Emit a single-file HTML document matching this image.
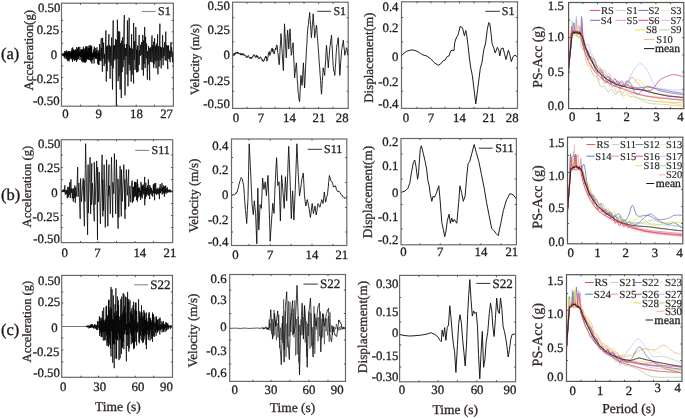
<!DOCTYPE html>
<html><head><meta charset="utf-8"><style>
html,body{margin:0;padding:0;background:#fff;}
svg{display:block;will-change:transform;}
text{font-family:"Liberation Serif",serif;text-rendering:geometricPrecision;stroke-width:0.3px;paint-order:stroke;}
</style></head><body>
<svg width="685" height="418" viewBox="0 0 685 418">
<rect width="685" height="418" fill="#fff"/>
<rect x="61.5" y="3.2" width="111.9" height="103.0" fill="none" stroke="#6a6a6a" stroke-width="1.2"/>
<path d="M62.20,54.37 L62.42,55.20 L62.64,54.01 L62.86,55.72 L63.08,52.98 L63.30,55.79 L63.52,54.18 L63.74,55.38 L63.96,53.63 L64.18,57.11 L64.40,52.86 L64.62,57.29 L64.84,51.24 L65.06,58.64 L65.28,51.05 L65.50,55.43 L65.72,53.22 L65.94,56.15 L66.16,52.94 L66.38,59.31 L66.60,50.44 L66.82,57.34 L67.04,52.29 L67.26,56.25 L67.48,53.11 L67.70,61.16 L67.92,51.62 L68.14,57.27 L68.36,51.10 L68.58,60.20 L68.80,50.90 L69.02,61.28 L69.24,53.48 L69.46,56.25 L69.68,51.22 L69.90,59.39 L70.12,53.24 L70.34,57.89 L70.56,53.04 L70.78,56.40 L71.00,50.94 L71.22,58.80 L71.44,51.39 L71.66,58.73 L71.88,48.49 L72.10,59.55 L72.32,52.52 L72.54,61.79 L72.76,47.38 L72.98,57.75 L73.20,49.38 L73.42,58.28 L73.64,50.55 L73.86,59.44 L74.08,54.35 L74.30,60.63 L74.52,50.15 L74.74,60.60 L74.96,51.37 L75.18,60.02 L75.40,49.74 L75.62,57.19 L75.84,49.48 L76.06,58.27 L76.28,53.07 L76.50,61.90 L76.72,47.01 L76.94,60.47 L77.16,52.10 L77.38,57.98 L77.60,48.78 L77.82,59.71 L78.04,48.20 L78.26,58.90 L78.48,46.93 L78.70,57.54 L78.92,52.98 L79.14,55.66 L79.36,51.87 L79.58,55.60 L79.80,46.86 L80.02,60.10 L80.24,53.68 L80.46,57.10 L80.68,49.93 L80.90,55.80 L81.12,51.17 L81.34,56.83 L81.56,49.08 L81.78,61.01 L82.00,50.10 L82.22,61.66 L82.44,49.68 L82.66,55.59 L82.88,49.32 L83.10,62.51 L83.32,46.68 L83.54,61.32 L83.76,52.11 L83.98,59.69 L84.20,48.97 L84.42,62.35 L84.64,53.91 L84.86,59.31 L85.08,48.20 L85.30,62.64 L85.52,46.45 L85.74,61.48 L85.96,51.31 L86.18,61.76 L86.40,46.20 L86.62,59.02 L86.84,48.20 L87.06,54.86 L87.28,46.62 L87.50,58.84 L87.72,51.77 L87.94,59.66 L88.16,53.97 L88.38,59.24 L88.60,47.75 L88.82,59.73 L89.04,45.45 L89.26,59.69 L89.48,47.63 L89.70,56.49 L89.92,52.02 L90.14,59.24 L90.36,45.07 L90.58,61.15 L90.80,47.28 L91.02,61.66 L91.24,47.07 L91.46,56.72 L91.68,45.79 L91.90,63.59 L92.12,52.86 L92.34,58.93 L92.56,53.98 L92.78,60.06 L93.00,52.54 L93.22,58.33 L93.44,51.52 L93.66,57.71 L93.88,49.26 L94.10,63.43 L94.32,46.66 L94.54,56.70 L94.76,52.53 L94.98,56.20 L95.20,47.96 L95.42,58.31 L95.64,51.59 L95.86,58.41 L96.08,51.72 L96.30,59.18 L96.52,50.46 L96.74,58.12 L96.96,47.30 L97.18,56.22 L97.40,53.25 L97.62,63.60 L97.84,53.51 L98.06,55.75 L98.28,50.22 L98.50,64.85 L98.72,52.07 L98.94,64.96 L99.16,53.07 L99.38,59.64 L99.60,44.07 L100.10,61.11 L101.30,38.20 L101.10,60.72 L101.60,47.88 L102.40,71.70 L102.60,37.77 L103.10,58.46 L103.60,42.76 L104.10,66.04 L104.60,53.89 L105.10,63.59 L105.90,30.30 L106.30,81.60 L106.60,46.24 L107.10,71.19 L107.60,45.61 L108.10,59.46 L108.90,34.20 L109.10,62.14 L109.60,45.10 L110.10,78.78 L110.60,46.46 L111.10,65.48 L111.60,37.49 L112.50,89.50 L113.20,20.40 L113.10,68.33 L113.60,45.46 L114.10,60.46 L114.60,45.29 L115.10,59.39 L115.60,38.99 L116.40,106.00 L116.60,39.91 L117.10,59.05 L117.40,19.70 L118.10,81.16 L118.60,31.25 L119.10,76.29 L119.70,31.60 L120.10,89.50 L120.60,43.15 L121.30,98.00 L121.60,40.72 L122.10,72.07 L122.60,37.25 L123.10,67.23 L124.30,15.10 L124.10,59.87 L124.60,44.10 L125.00,95.40 L125.60,48.00 L126.10,56.06 L126.60,44.15 L127.10,74.38 L127.40,20.40 L127.90,86.20 L129.20,17.80 L129.10,64.67 L129.60,45.36 L130.10,70.56 L130.60,47.90 L131.20,81.60 L131.60,34.20 L132.10,74.71 L132.60,48.71 L133.60,83.60 L133.60,23.00 L134.10,59.99 L134.60,41.34 L135.10,69.85 L135.80,27.00 L136.80,72.40 L136.60,49.70 L137.10,72.11 L137.60,45.60 L138.10,71.53 L139.20,34.90 L139.10,64.82 L139.60,50.28 L140.10,55.92 L140.60,44.84 L141.10,54.97 L141.60,42.08 L142.10,69.95 L142.80,34.90 L143.40,75.70 L143.60,40.52 L144.10,63.84 L144.70,27.00 L145.10,68.01 L145.60,36.86 L146.10,58.34 L146.60,43.53 L147.40,79.60 L147.60,51.29 L148.10,64.57 L148.60,46.00 L149.70,80.30 L149.60,48.29 L150.10,61.96 L150.60,47.27 L151.10,61.43 L152.00,35.50 L152.10,62.47 L152.60,45.15 L153.70,67.80 L153.60,41.85 L154.10,64.31 L154.60,38.20 L155.10,61.48 L155.60,45.82 L156.10,68.37 L156.60,43.66 L157.10,60.38 L157.60,34.38 L157.90,74.40 L158.60,46.24 L159.10,66.59 L159.90,23.70 L160.10,60.56 L160.60,46.81 L161.20,68.40 L161.60,47.51 L162.10,58.21 L162.60,35.18 L163.10,65.32 L163.60,47.70 L164.10,55.81 L164.60,42.22 L165.10,60.02 L165.80,31.60 L166.10,60.95 L166.60,45.04 L167.80,69.10 L167.60,45.66 L168.10,58.36 L168.60,45.38 L169.10,59.39 L169.60,50.61 L170.10,62.15 L171.00,42.00 L171.10,56.88 L171.60,47.29 L172.60,62.50 L172.60,51.70" stroke="#000" stroke-width="0.75" fill="none" stroke-linejoin="round" opacity="1"/>
<path d="M80.5,106.2v-1.6M80.5,3.2v1.6M98.8,106.2v-1.6M98.8,3.2v1.6M117.0,106.2v-1.6M117.0,3.2v1.6M136.2,106.2v-1.6M136.2,3.2v1.6M154.5,106.2v-1.6M154.5,3.2v1.6M61.5,20.5h1.6M173.4,20.5h-1.6M61.5,31.8h1.6M173.4,31.8h-1.6M61.5,43.2h1.6M173.4,43.2h-1.6M61.5,66.0h1.6M173.4,66.0h-1.6M61.5,77.4h1.6M173.4,77.4h-1.6M61.5,88.8h1.6M173.4,88.8h-1.6" stroke="#444" stroke-width="0.9" fill="none"/>
<text x="60.3" y="12.0" font-size="12.8" text-anchor="end" fill="#1e1e1e" stroke="#1e1e1e" >0.50</text>
<text x="59.1" y="33.6" font-size="12.8" text-anchor="end" fill="#1e1e1e" stroke="#1e1e1e" >0.25</text>
<text x="57.2" y="58.7" font-size="12.8" text-anchor="end" fill="#1e1e1e" stroke="#1e1e1e" >0</text>
<text x="59.1" y="82.9" font-size="12.8" text-anchor="end" fill="#1e1e1e" stroke="#1e1e1e" >-0.25</text>
<text x="59.6" y="105.3" font-size="12.8" text-anchor="end" fill="#1e1e1e" stroke="#1e1e1e" >-0.50</text>
<text x="65.5" y="118.0" font-size="12.8" text-anchor="middle" fill="#1e1e1e" stroke="#1e1e1e" >0</text>
<text x="98.6" y="118.0" font-size="12.8" text-anchor="middle" fill="#1e1e1e" stroke="#1e1e1e" >9</text>
<text x="136.5" y="118.0" font-size="12.8" text-anchor="middle" fill="#1e1e1e" stroke="#1e1e1e" >18</text>
<text x="166.6" y="118.0" font-size="12.8" text-anchor="middle" fill="#1e1e1e" stroke="#1e1e1e" >27</text>
<text transform="translate(32.8,50.2) rotate(-90)" font-size="12.85" text-anchor="middle" fill="#33282a" stroke="#33282a">Acceleration(g)</text>
<path d="M141.7,11.5H155.8" stroke="#8a8a8a" stroke-width="1.1"/>
<text x="158.0" y="15.2" font-size="12" text-anchor="start" fill="#1e1e1e" stroke="#1e1e1e" >S1</text>
<text x="1.0" y="58.9" font-size="16.5" text-anchor="start" fill="#161616" stroke="#161616" >(a)</text>
<rect x="232.6" y="2.2" width="115.6" height="106.2" fill="none" stroke="#6a6a6a" stroke-width="1.2"/>
<path d="M233.00,55.10 L233.42,55.55 L233.84,53.71 L234.27,55.28 L234.69,53.20 L235.11,54.43 L235.53,52.54 L235.96,53.64 L236.38,52.01 L236.80,52.50 L237.28,51.80 L237.76,53.78 L238.24,52.48 L238.72,53.78 L239.20,53.30 L239.65,54.10 L240.10,52.93 L240.55,55.10 L241.00,54.50 L241.45,54.82 L241.90,53.11 L242.35,55.13 L242.80,53.90 L243.28,55.13 L243.76,53.77 L244.24,55.52 L244.72,54.89 L245.20,55.70 L245.65,55.44 L246.10,57.23 L246.55,56.71 L247.00,57.80 L247.55,56.00 L248.10,55.40 L248.57,55.64 L249.03,57.55 L249.50,57.50 L250.03,58.63 L250.57,57.30 L251.10,58.70 L251.57,57.18 L252.03,58.10 L252.50,56.50 L253.03,56.80 L253.57,54.69 L254.10,55.10 L254.57,54.92 L255.03,56.86 L255.50,56.80 L255.90,57.62 L256.30,55.15 L256.70,56.97 L257.10,55.70 L257.55,57.36 L258.00,56.55 L258.45,58.54 L258.90,58.70 L259.37,58.83 L259.83,57.21 L260.30,57.20 L260.83,56.95 L261.37,59.30 L261.90,59.30 L262.35,60.75 L262.80,59.50 L263.25,61.72 L263.70,61.10 L264.15,60.90 L264.60,58.26 L265.05,58.08 L265.50,56.30 L265.95,58.24 L266.40,56.60 L266.85,61.17 L267.30,59.90 L267.90,57.70 L268.50,52.70 L268.95,53.98 L269.40,51.59 L269.85,55.51 L270.30,53.90 L270.75,53.64 L271.20,49.90 L271.65,50.72 L272.10,47.90 L272.55,51.55 L273.00,49.02 L273.45,53.44 L273.90,53.90 L274.30,53.91 L274.70,50.49 L275.10,50.30 L275.55,48.02 L276.00,49.58 L276.45,45.21 L276.90,45.00 L277.30,46.35 L277.70,52.40 L278.10,53.90 L278.65,60.43 L279.20,64.70 L279.65,58.77 L280.10,48.10 L280.55,43.10 L281.00,33.60 L281.60,44.18 L282.20,52.70 L282.80,63.14 L283.40,70.70 L283.95,48.41 L284.50,23.80 L284.95,33.54 L285.40,38.64 L285.85,51.24 L286.30,57.80 L286.73,49.85 L287.17,37.29 L287.60,30.10 L288.20,38.39 L288.80,49.00 L289.40,37.55 L290.00,28.90 L290.43,35.69 L290.87,48.23 L291.30,55.30 L291.75,53.16 L292.20,46.81 L292.65,47.01 L293.10,42.70 L293.60,55.65 L294.10,64.27 L294.60,77.90 L295.05,72.81 L295.50,71.62 L295.95,65.60 L296.40,62.80 L296.82,69.33 L297.25,79.50 L297.68,84.17 L298.10,92.90 L298.60,94.16 L299.10,100.14 L299.60,101.70 L300.03,93.74 L300.47,83.00 L300.90,75.40 L301.30,77.91 L301.70,82.96 L302.10,85.40 L302.53,78.97 L302.97,69.72 L303.40,62.80 L303.80,70.58 L304.20,80.67 L304.60,87.90 L305.05,79.54 L305.50,68.39 L305.95,60.24 L306.40,50.20 L306.83,44.51 L307.27,35.64 L307.70,30.10 L308.10,25.96 L308.50,24.22 L308.90,18.42 L309.30,16.93 L309.70,12.50 L310.12,19.58 L310.55,24.55 L310.97,31.91 L311.40,37.70 L311.85,32.90 L312.30,25.10 L312.75,20.76 L313.20,13.80 L313.70,22.43 L314.20,28.66 L314.70,37.70 L315.15,33.64 L315.60,32.09 L316.05,27.64 L316.50,25.10 L316.93,29.75 L317.35,36.93 L317.77,41.41 L318.20,47.70 L318.70,53.52 L319.20,62.19 L319.70,67.80 L320.15,75.32 L320.60,80.32 L321.05,88.74 L321.50,94.20 L321.93,88.23 L322.35,80.51 L322.77,75.07 L323.20,67.80 L323.70,71.13 L324.20,72.34 L324.70,75.40 L325.15,67.24 L325.60,61.05 L326.05,51.86 L326.50,45.20 L326.95,50.28 L327.40,57.24 L327.85,61.03 L328.30,67.80 L328.80,59.91 L329.30,55.35 L329.80,47.70 L330.23,45.55 L330.65,40.55 L331.07,38.91 L331.50,35.20 L331.95,43.86 L332.40,51.01 L332.85,60.79 L333.30,67.80 L333.80,71.32 L334.30,71.69 L334.80,75.40 L335.25,67.98 L335.70,62.49 L336.15,53.80 L336.60,47.70 L337.03,44.19 L337.45,43.41 L337.88,39.00 L338.30,37.70 L338.80,49.73 L339.30,63.71 L339.80,75.40 L340.25,70.11 L340.70,61.67 L341.15,57.51 L341.60,50.20 L342.03,48.69 L342.45,44.15 L342.88,43.84 L343.30,40.20 L343.80,45.97 L344.30,49.29 L344.80,55.30 L345.25,52.27 L345.70,52.61 L346.15,48.82 L346.60,47.70 L347.07,49.18 L347.53,53.87 L348.00,55.30" stroke="#111" stroke-width="0.9" fill="none" stroke-linejoin="round" opacity="1"/>
<path d="M247.0,108.4v-1.6M247.0,2.2v1.6M261.0,108.4v-1.6M261.0,2.2v1.6M275.0,108.4v-1.6M275.0,2.2v1.6M289.5,108.4v-1.6M289.5,2.2v1.6M304.0,108.4v-1.6M304.0,2.2v1.6M318.5,108.4v-1.6M318.5,2.2v1.6M333.0,108.4v-1.6M333.0,2.2v1.6M232.6,17.7h1.6M348.2,17.7h-1.6M232.6,41.9h1.6M348.2,41.9h-1.6M232.6,66.8h1.6M348.2,66.8h-1.6M232.6,91.2h1.6M348.2,91.2h-1.6" stroke="#444" stroke-width="0.9" fill="none"/>
<text x="229.9" y="10.0" font-size="12.8" text-anchor="end" fill="#1e1e1e" stroke="#1e1e1e" >0.50</text>
<text x="229.9" y="34.0" font-size="12.8" text-anchor="end" fill="#1e1e1e" stroke="#1e1e1e" >0.25</text>
<text x="229.9" y="58.5" font-size="12.8" text-anchor="end" fill="#1e1e1e" stroke="#1e1e1e" >0</text>
<text x="229.9" y="84.5" font-size="12.8" text-anchor="end" fill="#1e1e1e" stroke="#1e1e1e" >-0.25</text>
<text x="229.9" y="108.0" font-size="12.8" text-anchor="end" fill="#1e1e1e" stroke="#1e1e1e" >-0.50</text>
<text x="236.0" y="122.0" font-size="12.8" text-anchor="middle" fill="#1e1e1e" stroke="#1e1e1e" >0</text>
<text x="261.0" y="122.0" font-size="12.8" text-anchor="middle" fill="#1e1e1e" stroke="#1e1e1e" >7</text>
<text x="289.5" y="122.0" font-size="12.8" text-anchor="middle" fill="#1e1e1e" stroke="#1e1e1e" >14</text>
<text x="319.0" y="122.0" font-size="12.8" text-anchor="middle" fill="#1e1e1e" stroke="#1e1e1e" >21</text>
<text x="342.2" y="122.0" font-size="12.8" text-anchor="middle" fill="#1e1e1e" stroke="#1e1e1e" >28</text>
<text transform="translate(198.8,59.5) rotate(-90)" font-size="12.5" text-anchor="middle" fill="#33282a" stroke="#33282a">Velocity (m/s)</text>
<path d="M317.2,11.3H331.0" stroke="#333" stroke-width="1.0"/>
<text x="333.4" y="14.8" font-size="12" text-anchor="start" fill="#1e1e1e" stroke="#1e1e1e" >S1</text>
<rect x="401.5" y="1.8" width="116.0" height="106.6" fill="none" stroke="#6a6a6a" stroke-width="1.2"/>
<path d="M401.80,55.30 L404.00,53.20 L406.60,51.30 L410.00,50.20 L413.20,50.00 L416.00,50.80 L418.40,52.10 L420.50,53.50 L422.40,54.70 L426.30,55.80 L430.30,58.40 L434.20,62.60 L438.20,65.30 L440.80,63.70 L443.40,60.50 L445.00,60.20 L447.20,56.60 L449.00,55.90 L450.00,53.00 L451.00,50.60 L452.90,50.20 L453.90,50.90 L454.80,42.30 L456.20,38.00 L457.60,35.80 L458.60,32.90 L460.10,26.50 L461.90,27.20 L462.90,29.30 L464.40,35.80 L465.80,30.50 L466.50,33.70 L468.00,45.10 L469.40,58.00 L470.80,68.10 L472.30,75.30 L473.50,85.00 L475.80,103.90 L477.60,89.50 L480.30,68.40 L482.00,62.30 L483.70,50.20 L485.60,43.00 L487.30,29.30 L488.80,22.50 L489.80,23.60 L490.90,32.20 L492.10,43.70 L493.80,48.00 L495.20,53.00 L497.40,47.30 L498.80,50.20 L499.80,55.90 L501.20,48.70 L503.10,48.00 L504.50,53.70 L506.00,59.50 L508.40,50.20 L509.60,53.70 L511.30,61.60 L513.10,56.60 L515.00,55.20 L517.00,56.60" stroke="#111" stroke-width="0.95" fill="none" stroke-linejoin="round" opacity="1"/>
<path d="M417.0,108.4v-1.6M417.0,1.8v1.6M431.0,108.4v-1.6M431.0,1.8v1.6M445.0,108.4v-1.6M445.0,1.8v1.6M459.5,108.4v-1.6M459.5,1.8v1.6M474.0,108.4v-1.6M474.0,1.8v1.6M489.0,108.4v-1.6M489.0,1.8v1.6M503.0,108.4v-1.6M503.0,1.8v1.6M401.5,17.5h1.6M517.5,17.5h-1.6M401.5,41.9h1.6M517.5,41.9h-1.6M401.5,68.0h1.6M517.5,68.0h-1.6M401.5,91.2h1.6M517.5,91.2h-1.6" stroke="#444" stroke-width="0.9" fill="none"/>
<text x="398.5" y="10.7" font-size="12.8" text-anchor="end" fill="#1e1e1e" stroke="#1e1e1e" >0.4</text>
<text x="398.5" y="32.0" font-size="12.8" text-anchor="end" fill="#1e1e1e" stroke="#1e1e1e" >0.2</text>
<text x="398.5" y="60.7" font-size="12.8" text-anchor="end" fill="#1e1e1e" stroke="#1e1e1e" >0</text>
<text x="398.5" y="85.5" font-size="12.8" text-anchor="end" fill="#1e1e1e" stroke="#1e1e1e" >-0.2</text>
<text x="398.5" y="108.0" font-size="12.8" text-anchor="end" fill="#1e1e1e" stroke="#1e1e1e" >-0.4</text>
<text x="406.0" y="122.0" font-size="12.8" text-anchor="middle" fill="#1e1e1e" stroke="#1e1e1e" >0</text>
<text x="431.0" y="122.0" font-size="12.8" text-anchor="middle" fill="#1e1e1e" stroke="#1e1e1e" >7</text>
<text x="459.5" y="122.0" font-size="12.8" text-anchor="middle" fill="#1e1e1e" stroke="#1e1e1e" >14</text>
<text x="489.0" y="122.0" font-size="12.8" text-anchor="middle" fill="#1e1e1e" stroke="#1e1e1e" >21</text>
<text x="512.2" y="122.0" font-size="12.8" text-anchor="middle" fill="#1e1e1e" stroke="#1e1e1e" >28</text>
<text transform="translate(373.3,57.7) rotate(-90)" font-size="13" text-anchor="middle" fill="#33282a" stroke="#33282a">Displacement(m)</text>
<path d="M485.3,11.3H499.9" stroke="#333" stroke-width="1.0"/>
<text x="501.8" y="14.8" font-size="12" text-anchor="start" fill="#1e1e1e" stroke="#1e1e1e" >S1</text>
<clipPath id="c5682"><rect x="568.6" y="2.5" width="115.19999999999993" height="106.1"/></clipPath>
<g clip-path="url(#c5682)">
<path d="M568.20,71.67 L568.78,66.08 L569.37,60.43 L569.95,53.95 L570.54,50.01 L571.12,43.28 L571.70,38.52 L572.29,30.23 L572.87,33.24 L573.46,30.71 L574.04,33.36 L574.62,31.34 L575.21,32.63 L575.79,26.96 L576.38,15.91 L576.96,29.17 L577.54,33.98 L578.13,28.58 L578.71,25.05 L579.30,31.75 L579.88,31.33 L580.46,32.22 L581.05,35.81 L581.63,35.41 L582.22,37.03 L582.80,38.78 L583.68,40.07 L584.55,42.93 L585.43,48.01 L586.30,52.02 L587.18,52.76 L588.06,52.67 L588.93,54.95 L589.81,58.90 L590.68,60.93 L591.56,59.98 L592.44,59.76 L593.31,62.28 L594.19,65.63 L595.06,66.46 L595.94,65.03 L596.82,64.96 L597.69,67.75 L598.57,70.55 L599.44,70.53 L600.32,69.16 L601.20,69.99 L602.07,73.28 L602.95,75.54 L603.82,74.90 L604.70,73.91 L605.58,75.64 L606.45,78.97 L607.33,80.27 L608.20,78.91 L609.08,78.19 L609.96,80.32 L610.83,83.04 L611.71,83.05 L612.58,81.07 L613.46,80.72 L614.34,83.04 L615.21,84.92 L616.09,83.88 L616.96,81.81 L617.84,82.19 L618.72,84.72 L619.59,85.83 L620.47,84.11 L621.34,82.50 L622.22,83.70 L623.10,86.10 L623.97,86.06 L624.85,83.63 L625.72,82.28 L626.60,82.97 L627.48,83.14 L628.35,81.03 L629.23,78.04 L630.10,76.07 L630.98,74.91 L631.86,73.39 L632.73,71.60 L633.61,70.15 L634.48,68.86 L635.36,67.58 L636.24,66.41 L637.11,65.40 L637.99,64.58 L638.86,64.00 L639.74,63.72 L640.62,63.74 L641.49,64.01 L642.95,64.98 L644.41,66.44 L645.87,68.28 L647.33,70.38 L648.79,73.17 L650.25,76.54 L651.71,80.02 L653.17,83.16 L654.63,85.48 L656.09,86.84 L657.55,87.77 L659.01,88.37 L660.47,88.72 L661.93,88.91 L663.39,89.01 L664.85,89.11 L666.31,89.29 L667.77,89.49 L669.23,89.65 L670.69,89.77 L672.15,89.86 L673.61,89.93 L675.07,89.99 L676.53,90.03 L677.99,90.07 L679.45,90.11 L680.91,90.15 L682.37,90.21 L683.83,90.28" stroke="#c3c8ef" stroke-width="0.8" fill="none" stroke-linejoin="round" opacity="1"/>
<path d="M568.20,72.33 L568.78,67.10 L569.37,60.54 L569.95,55.69 L570.54,49.57 L571.12,42.69 L571.70,36.40 L572.29,30.76 L572.87,33.15 L573.46,33.32 L574.04,32.74 L574.62,31.80 L575.21,30.90 L575.79,31.12 L576.38,26.97 L576.96,18.64 L577.54,26.15 L578.13,33.32 L578.71,33.38 L579.30,33.89 L579.88,32.89 L580.46,23.30 L581.05,18.76 L581.63,32.83 L582.22,36.04 L582.80,39.65 L583.68,41.28 L584.55,43.48 L585.43,46.05 L586.30,48.60 L587.18,50.66 L588.06,52.06 L588.93,52.64 L589.81,52.61 L590.68,52.48 L591.56,52.81 L592.44,54.73 L593.31,57.34 L594.19,60.16 L595.06,62.76 L595.94,64.68 L596.82,65.72 L597.69,66.05 L598.57,66.11 L599.44,66.46 L600.32,67.48 L601.20,69.23 L602.07,71.51 L602.95,73.80 L603.82,75.54 L604.70,76.41 L605.58,76.42 L606.45,75.94 L607.33,75.53 L608.20,75.66 L609.08,76.55 L609.96,78.08 L610.83,79.81 L611.71,81.20 L612.58,81.82 L613.46,81.56 L614.34,80.68 L615.21,79.71 L616.09,79.23 L616.96,79.50 L617.84,80.52 L618.72,82.08 L619.59,83.51 L620.47,84.31 L621.34,84.26 L622.22,83.50 L623.10,82.47 L623.97,81.77 L624.85,81.92 L625.72,82.81 L626.60,84.06 L627.48,85.20 L628.35,85.91 L629.23,86.12 L630.10,86.03 L630.98,85.93 L631.86,86.04 L632.73,86.34 L633.61,86.64 L634.48,86.80 L635.36,86.91 L636.24,87.00 L637.11,87.09 L637.99,87.16 L638.86,87.20 L639.74,87.18 L640.62,87.10 L641.49,86.97 L642.95,86.68 L644.41,86.36 L645.87,86.05 L647.33,85.82 L648.79,85.73 L650.25,85.84 L651.71,86.14 L653.17,86.58 L654.63,87.14 L656.09,87.75 L657.55,88.39 L659.01,89.01 L660.47,89.57 L661.93,90.02 L663.39,90.43 L664.85,90.82 L666.31,91.21 L667.77,91.58 L669.23,91.95 L670.69,92.31 L672.15,92.66 L673.61,93.01 L675.07,93.36 L676.53,93.70 L677.99,94.05 L679.45,94.40 L680.91,94.75 L682.37,95.10 L683.83,95.46" stroke="#efefb4" stroke-width="0.8" fill="none" stroke-linejoin="round" opacity="1"/>
<path d="M568.20,71.74 L568.78,65.74 L569.37,61.28 L569.95,53.83 L570.54,49.20 L571.12,42.91 L571.70,36.20 L572.29,32.55 L572.87,32.84 L573.46,32.07 L574.04,30.25 L574.62,32.30 L575.21,30.89 L575.79,33.27 L576.38,31.36 L576.96,31.09 L577.54,32.93 L578.13,33.62 L578.71,34.11 L579.30,34.10 L579.88,31.89 L580.46,26.94 L581.05,29.40 L581.63,23.94 L582.22,24.19 L582.80,37.64 L583.68,39.05 L584.55,41.86 L585.43,44.36 L586.30,45.11 L587.18,44.42 L588.06,44.27 L588.93,46.06 L589.81,49.52 L590.68,52.89 L591.56,54.56 L592.44,55.63 L593.31,56.63 L594.19,59.00 L595.06,62.74 L595.94,66.16 L596.82,67.63 L597.69,67.22 L598.57,66.60 L599.44,67.44 L600.32,69.75 L601.20,71.91 L602.07,72.38 L602.95,71.17 L603.82,69.82 L604.70,70.08 L605.58,72.11 L606.45,74.33 L607.33,75.06 L608.20,74.17 L609.08,73.21 L609.96,73.89 L610.83,76.32 L611.71,78.92 L612.58,79.93 L613.46,79.13 L614.34,78.04 L615.21,78.45 L616.09,80.64 L616.96,82.98 L617.84,83.74 L618.72,82.72 L619.59,81.36 L620.47,81.47 L621.34,83.41 L622.22,85.74 L623.10,86.69 L623.97,85.90 L624.85,84.98 L625.72,85.54 L626.60,87.47 L627.48,89.37 L628.35,90.16 L629.23,89.98 L630.10,89.83 L630.98,90.32 L631.86,91.21 L632.73,91.87 L633.61,92.11 L634.48,92.38 L635.36,92.70 L636.24,93.00 L637.11,93.29 L637.99,93.56 L638.86,93.82 L639.74,94.06 L640.62,94.29 L641.49,94.51 L642.95,94.85 L644.41,95.16 L645.87,95.45 L647.33,95.71 L648.79,95.96 L650.25,96.20 L651.71,96.41 L653.17,96.60 L654.63,96.78 L656.09,96.94 L657.55,97.09 L659.01,97.22 L660.47,97.35 L661.93,97.48 L663.39,97.60 L664.85,97.72 L666.31,97.84 L667.77,97.97 L669.23,98.10 L670.69,98.25 L672.15,98.40 L673.61,98.55 L675.07,98.70 L676.53,98.85 L677.99,99.00 L679.45,99.15 L680.91,99.30 L682.37,99.45 L683.83,99.60" stroke="#e6b6e6" stroke-width="0.8" fill="none" stroke-linejoin="round" opacity="1"/>
<path d="M568.20,76.10 L568.78,69.62 L569.37,64.59 L569.95,55.87 L570.54,49.91 L571.12,46.10 L571.70,36.62 L572.29,20.84 L572.87,30.35 L573.46,35.33 L574.04,35.56 L574.62,35.27 L575.21,34.56 L575.79,33.66 L576.38,36.51 L576.96,34.20 L577.54,36.69 L578.13,36.60 L578.71,37.99 L579.30,37.97 L579.88,26.57 L580.46,37.41 L581.05,47.32 L581.63,47.89 L582.22,48.36 L582.80,50.04 L583.68,49.72 L584.55,51.78 L585.43,57.33 L586.30,61.30 L587.18,63.96 L588.06,65.97 L588.93,66.54 L589.81,67.24 L590.68,68.89 L591.56,71.00 L592.44,73.62 L593.31,75.32 L594.19,76.00 L595.06,76.01 L595.94,76.03 L596.82,76.71 L597.69,78.45 L598.57,81.14 L599.44,83.85 L600.32,85.90 L601.20,86.88 L602.07,86.89 L602.95,86.46 L603.82,86.11 L604.70,86.50 L605.58,87.79 L606.45,89.57 L607.33,91.14 L608.20,91.90 L609.08,91.65 L609.96,90.69 L610.83,89.69 L611.71,89.32 L612.58,90.01 L613.46,91.51 L614.34,93.21 L615.21,94.39 L616.09,94.56 L616.96,93.80 L617.84,92.60 L618.72,91.63 L619.59,91.51 L620.47,92.39 L621.34,93.93 L622.22,95.42 L623.10,96.20 L623.97,95.96 L624.85,95.01 L625.72,94.16 L626.60,93.93 L627.48,94.43 L628.35,95.37 L629.23,96.26 L630.10,96.77 L630.98,96.83 L631.86,96.68 L632.73,96.62 L633.61,96.84 L634.48,97.11 L635.36,97.33 L636.24,97.55 L637.11,97.77 L637.99,97.99 L638.86,98.20 L639.74,98.41 L640.62,98.62 L641.49,98.83 L642.95,99.16 L644.41,99.48 L645.87,99.78 L647.33,100.07 L648.79,100.34 L650.25,100.58 L651.71,100.81 L653.17,101.02 L654.63,101.21 L656.09,101.37 L657.55,101.53 L659.01,101.66 L660.47,101.79 L661.93,101.90 L663.39,102.00 L664.85,102.09 L666.31,102.18 L667.77,102.25 L669.23,102.33 L670.69,102.39 L672.15,102.46 L673.61,102.52 L675.07,102.59 L676.53,102.65 L677.99,102.72 L679.45,102.79 L680.91,102.87 L682.37,102.96 L683.83,103.05" stroke="#a6d68e" stroke-width="0.8" fill="none" stroke-linejoin="round" opacity="1"/>
<path d="M568.20,72.14 L568.78,66.83 L569.37,60.17 L569.95,54.79 L570.54,49.19 L571.12,43.84 L571.70,38.32 L572.29,30.89 L572.87,30.33 L573.46,32.32 L574.04,30.84 L574.62,32.62 L575.21,31.17 L575.79,33.05 L576.38,32.00 L576.96,32.64 L577.54,31.18 L578.13,31.70 L578.71,34.09 L579.30,34.26 L579.88,32.40 L580.46,28.16 L581.05,30.30 L581.63,27.45 L582.22,23.03 L582.80,39.48 L583.68,41.51 L584.55,44.68 L585.43,48.67 L586.30,52.32 L587.18,54.56 L588.06,55.52 L588.93,56.14 L589.81,57.68 L590.68,60.77 L591.56,64.77 L592.44,68.08 L593.31,69.91 L594.19,70.30 L595.06,70.47 L595.94,71.68 L596.82,74.26 L597.69,77.33 L598.57,79.52 L599.44,80.00 L600.32,79.18 L601.20,78.35 L602.07,78.72 L602.95,80.39 L603.82,82.52 L604.70,83.70 L605.58,83.30 L606.45,82.02 L607.33,81.25 L608.20,81.98 L609.08,84.04 L609.96,86.23 L610.83,87.30 L611.71,86.95 L612.58,86.02 L613.46,85.88 L614.34,87.28 L615.21,89.70 L616.09,91.77 L616.96,92.42 L617.84,91.60 L618.72,90.17 L619.59,89.67 L620.47,90.65 L621.34,92.37 L622.22,93.51 L623.10,93.17 L623.97,91.60 L624.85,90.23 L625.72,90.16 L626.60,91.31 L627.48,92.71 L628.35,93.46 L629.23,93.41 L630.10,93.13 L630.98,93.25 L631.86,93.90 L632.73,94.74 L633.61,95.37 L634.48,95.90 L635.36,96.47 L636.24,97.04 L637.11,97.60 L637.99,98.15 L638.86,98.70 L639.74,99.23 L640.62,99.74 L641.49,100.23 L642.95,100.99 L644.41,101.67 L645.87,102.26 L647.33,102.73 L648.79,103.11 L650.25,103.40 L651.71,103.62 L653.17,103.78 L654.63,103.89 L656.09,103.97 L657.55,104.03 L659.01,104.08 L660.47,104.14 L661.93,104.21 L663.39,104.32 L664.85,104.46 L666.31,104.62 L667.77,104.78 L669.23,104.94 L670.69,105.10 L672.15,105.25 L673.61,105.41 L675.07,105.56 L676.53,105.72 L677.99,105.88 L679.45,106.03 L680.91,106.19 L682.37,106.34 L683.83,106.50" stroke="#f6b68e" stroke-width="0.8" fill="none" stroke-linejoin="round" opacity="1"/>
<path d="M568.20,72.22 L568.78,67.15 L569.37,60.24 L569.95,52.80 L570.54,49.80 L571.12,42.18 L571.70,38.35 L572.29,30.15 L572.87,31.52 L573.46,32.21 L574.04,33.51 L574.62,33.17 L575.21,30.68 L575.79,28.27 L576.38,18.85 L576.96,28.11 L577.54,32.66 L578.13,31.86 L578.71,34.03 L579.30,32.29 L579.88,34.52 L580.46,34.75 L581.05,33.87 L581.63,34.19 L582.22,25.67 L582.80,42.76 L583.68,44.46 L584.55,45.77 L585.43,47.35 L586.30,49.56 L587.18,52.36 L588.06,55.44 L588.93,58.06 L589.81,59.71 L590.68,60.41 L591.56,60.60 L592.44,61.09 L593.31,62.32 L594.19,64.40 L595.06,67.14 L595.94,69.95 L596.82,72.16 L597.69,73.40 L598.57,73.77 L599.44,73.77 L600.32,74.01 L601.20,74.97 L602.07,76.78 L602.95,79.04 L603.82,81.20 L604.70,82.57 L605.58,82.87 L606.45,82.33 L607.33,81.52 L608.20,81.13 L609.08,81.56 L609.96,82.80 L610.83,84.43 L611.71,85.78 L612.58,86.33 L613.46,85.95 L614.34,84.95 L615.21,83.96 L616.09,83.58 L616.96,84.18 L617.84,85.60 L618.72,87.20 L619.59,88.42 L620.47,88.77 L621.34,88.19 L622.22,86.93 L623.10,85.62 L623.97,84.92 L624.85,85.08 L625.72,85.58 L626.60,85.84 L627.48,85.18 L628.35,83.44 L629.23,81.17 L630.10,79.04 L630.98,77.63 L631.86,77.26 L632.73,77.71 L633.61,78.44 L634.48,79.26 L635.36,80.24 L636.24,81.34 L637.11,82.51 L637.99,83.68 L638.86,84.80 L639.74,85.83 L640.62,86.71 L641.49,87.39 L642.95,88.37 L644.41,89.24 L645.87,90.02 L647.33,90.71 L648.79,91.33 L650.25,91.87 L651.71,92.35 L653.17,92.78 L654.63,93.15 L656.09,93.47 L657.55,93.73 L659.01,93.96 L660.47,94.16 L661.93,94.35 L663.39,94.52 L664.85,94.68 L666.31,94.86 L667.77,95.05 L669.23,95.26 L670.69,95.51 L672.15,95.78 L673.61,96.07 L675.07,96.37 L676.53,96.67 L677.99,96.98 L679.45,97.29 L680.91,97.61 L682.37,97.92 L683.83,98.22" stroke="#ef8fbf" stroke-width="0.8" fill="none" stroke-linejoin="round" opacity="1"/>
<path d="M568.20,72.53 L568.78,66.39 L569.37,61.21 L569.95,54.66 L570.54,50.43 L571.12,44.50 L571.70,36.63 L572.29,31.91 L572.87,31.68 L573.46,31.00 L574.04,32.38 L574.62,33.51 L575.21,31.09 L575.79,31.85 L576.38,31.69 L576.96,31.91 L577.54,30.84 L578.13,33.07 L578.71,31.84 L579.30,33.33 L579.88,32.77 L580.46,33.21 L581.05,30.64 L581.63,16.64 L582.22,22.53 L582.80,42.10 L583.68,45.96 L584.55,48.36 L585.43,49.25 L586.30,49.35 L587.18,49.66 L588.06,51.07 L588.93,53.46 L589.81,56.06 L590.68,57.99 L591.56,58.70 L592.44,59.03 L593.31,58.99 L594.19,59.40 L595.06,60.93 L595.94,63.42 L596.82,66.11 L597.69,68.12 L598.57,68.96 L599.44,68.86 L600.32,68.60 L601.20,69.02 L602.07,70.62 L602.95,73.08 L603.82,75.52 L604.70,77.05 L605.58,77.34 L606.45,76.74 L607.33,76.10 L608.20,76.27 L609.08,77.53 L609.96,79.48 L610.83,81.25 L611.71,82.03 L612.58,81.58 L613.46,80.37 L614.34,79.32 L615.21,79.23 L616.09,80.33 L616.96,82.03 L617.84,83.43 L618.72,83.89 L619.59,83.21 L620.47,81.97 L621.34,81.13 L622.22,81.39 L623.10,82.80 L623.97,84.70 L624.85,86.01 L625.72,86.27 L626.60,85.76 L627.48,85.18 L628.35,85.11 L629.23,85.70 L630.10,86.62 L630.98,87.38 L631.86,87.73 L632.73,87.73 L633.61,87.67 L634.48,87.77 L635.36,87.87 L636.24,87.94 L637.11,87.95 L637.99,87.93 L638.86,87.88 L639.74,87.80 L640.62,87.70 L641.49,87.59 L642.95,87.41 L644.41,87.26 L645.87,87.18 L647.33,87.19 L648.79,87.31 L650.25,87.51 L651.71,87.77 L653.17,88.05 L654.63,88.34 L656.09,88.61 L657.55,88.88 L659.01,89.15 L660.47,89.43 L661.93,89.72 L663.39,90.01 L664.85,90.29 L666.31,90.57 L667.77,90.85 L669.23,91.11 L670.69,91.37 L672.15,91.61 L673.61,91.85 L675.07,92.08 L676.53,92.30 L677.99,92.52 L679.45,92.73 L680.91,92.95 L682.37,93.17 L683.83,93.39" stroke="#7c74c4" stroke-width="0.8" fill="none" stroke-linejoin="round" opacity="1"/>
<path d="M568.20,72.33 L568.78,65.79 L569.37,61.63 L569.95,54.07 L570.54,50.05 L571.12,36.50 L571.70,27.87 L572.29,31.07 L572.87,30.52 L573.46,24.24 L574.04,22.94 L574.62,30.49 L575.21,31.37 L575.79,30.69 L576.38,33.37 L576.96,33.18 L577.54,31.51 L578.13,31.00 L578.71,34.14 L579.30,34.29 L579.88,32.15 L580.46,34.40 L581.05,34.86 L581.63,33.84 L582.22,34.93 L582.80,40.02 L583.68,44.74 L584.55,48.88 L585.43,50.08 L586.30,49.45 L587.18,50.16 L588.06,53.40 L588.93,56.67 L589.81,57.39 L590.68,56.45 L591.56,56.92 L592.44,60.31 L593.31,63.91 L594.19,65.03 L595.06,64.39 L595.94,65.02 L596.82,68.22 L597.69,71.78 L598.57,72.96 L599.44,72.18 L600.32,72.42 L601.20,75.11 L602.07,78.25 L602.95,79.02 L603.82,77.70 L604.70,77.23 L605.58,79.26 L606.45,81.89 L607.33,82.28 L608.20,80.50 L609.08,79.46 L609.96,81.02 L610.83,83.46 L611.71,83.87 L612.58,82.12 L613.46,81.04 L614.34,82.64 L615.21,85.32 L616.09,86.09 L616.96,84.61 L617.84,83.61 L618.72,85.09 L619.59,87.74 L620.47,88.53 L621.34,86.80 L622.22,84.87 L623.10,85.12 L623.97,86.41 L624.85,85.74 L625.72,83.02 L626.60,80.85 L627.48,80.84 L628.35,81.94 L629.23,82.52 L630.10,82.70 L630.98,83.66 L631.86,85.76 L632.73,88.12 L633.61,90.02 L634.48,91.73 L635.36,93.11 L636.24,93.95 L637.11,94.17 L637.99,94.03 L638.86,93.59 L639.74,92.93 L640.62,92.09 L641.49,91.15 L642.95,89.50 L644.41,87.99 L645.87,86.89 L647.33,86.46 L648.79,86.49 L650.25,86.75 L651.71,87.19 L653.17,87.77 L654.63,88.43 L656.09,89.13 L657.55,89.83 L659.01,90.47 L660.47,91.00 L661.93,91.39 L663.39,91.70 L664.85,91.98 L666.31,92.25 L667.77,92.50 L669.23,92.73 L670.69,92.95 L672.15,93.16 L673.61,93.36 L675.07,93.55 L676.53,93.75 L677.99,93.94 L679.45,94.14 L680.91,94.34 L682.37,94.55 L683.83,94.77" stroke="#5b78c6" stroke-width="0.8" fill="none" stroke-linejoin="round" opacity="1"/>
<path d="M568.20,72.35 L568.78,65.92 L569.37,61.54 L569.95,53.26 L570.54,48.90 L571.12,36.95 L571.70,26.76 L572.29,29.78 L572.87,30.74 L573.46,31.61 L574.04,30.26 L574.62,33.39 L575.21,32.37 L575.79,33.59 L576.38,31.08 L576.96,31.50 L577.54,30.77 L578.13,34.31 L578.71,31.41 L579.30,34.10 L579.88,33.96 L580.46,35.17 L581.05,35.01 L581.63,34.15 L582.22,33.50 L582.80,38.58 L583.68,40.68 L584.55,42.78 L585.43,45.27 L586.30,48.25 L587.18,51.48 L588.06,54.63 L588.93,57.05 L589.81,58.36 L590.68,58.68 L591.56,58.46 L592.44,59.01 L593.31,60.09 L594.19,61.79 L595.06,64.00 L595.94,66.25 L596.82,68.00 L597.69,68.90 L598.57,68.98 L599.44,68.61 L600.32,68.34 L601.20,68.67 L602.07,69.89 L602.95,71.85 L603.82,74.06 L604.70,75.91 L605.58,76.99 L606.45,77.21 L607.33,76.86 L608.20,76.47 L609.08,76.57 L609.96,77.48 L610.83,79.11 L611.71,81.05 L612.58,82.71 L613.46,83.61 L614.34,83.59 L615.21,82.90 L616.09,82.07 L616.96,81.62 L617.84,81.93 L618.72,83.02 L619.59,84.54 L620.47,85.92 L621.34,86.66 L622.22,86.52 L623.10,85.64 L623.97,84.51 L624.85,83.83 L625.72,83.90 L626.60,84.58 L627.48,85.46 L628.35,86.10 L629.23,86.24 L630.10,85.81 L630.98,84.93 L631.86,83.93 L632.73,83.00 L633.61,82.18 L634.48,81.33 L635.36,80.55 L636.24,79.95 L637.11,79.62 L637.99,79.63 L638.86,79.93 L639.74,80.47 L640.62,81.19 L641.49,82.05 L642.95,83.69 L644.41,85.38 L645.87,86.91 L647.33,88.23 L648.79,89.53 L650.25,90.84 L651.71,92.15 L653.17,93.46 L654.63,94.76 L656.09,96.07 L657.55,97.57 L659.01,99.10 L660.47,100.36 L661.93,101.08 L663.39,101.52 L664.85,101.92 L666.31,102.28 L667.77,102.59 L669.23,102.88 L670.69,103.13 L672.15,103.37 L673.61,103.58 L675.07,103.79 L676.53,103.99 L677.99,104.20 L679.45,104.40 L680.91,104.62 L682.37,104.86 L683.83,105.12" stroke="#ece33c" stroke-width="0.8" fill="none" stroke-linejoin="round" opacity="1"/>
<path d="M568.20,72.51 L568.78,67.21 L569.37,61.31 L569.95,56.11 L570.54,49.00 L571.12,33.75 L571.70,26.51 L572.29,31.49 L572.87,32.06 L573.46,30.49 L574.04,33.57 L574.62,31.46 L575.21,30.66 L575.79,31.35 L576.38,33.41 L576.96,33.52 L577.54,32.91 L578.13,34.30 L578.71,31.12 L579.30,31.97 L579.88,31.95 L580.46,33.24 L581.05,32.79 L581.63,34.85 L582.22,28.80 L582.80,35.50 L583.68,38.80 L584.55,42.55 L585.43,46.57 L586.30,50.48 L587.18,53.86 L588.06,56.52 L588.93,58.24 L589.81,59.14 L590.68,59.67 L591.56,60.34 L592.44,61.93 L593.31,64.10 L594.19,66.52 L595.06,68.86 L595.94,70.66 L596.82,71.62 L597.69,71.75 L598.57,71.35 L599.44,70.90 L600.32,70.86 L601.20,71.51 L602.07,72.88 L602.95,74.67 L603.82,76.42 L604.70,77.64 L605.58,78.06 L606.45,77.77 L607.33,77.13 L608.20,76.62 L609.08,76.68 L609.96,77.50 L610.83,78.98 L611.71,80.71 L612.58,82.20 L613.46,83.04 L614.34,83.08 L615.21,82.47 L616.09,81.63 L616.96,81.05 L617.84,81.10 L618.72,82.01 L619.59,83.45 L620.47,84.97 L621.34,86.03 L622.22,86.34 L623.10,85.87 L623.97,84.87 L624.85,83.96 L625.72,83.61 L626.60,83.94 L627.48,84.77 L628.35,85.75 L629.23,86.55 L630.10,86.99 L630.98,87.11 L631.86,87.12 L632.73,87.20 L633.61,87.42 L634.48,87.67 L635.36,87.87 L636.24,88.07 L637.11,88.29 L637.99,88.53 L638.86,88.77 L639.74,89.01 L640.62,89.26 L641.49,89.49 L642.95,89.86 L644.41,90.16 L645.87,90.38 L647.33,90.50 L648.79,90.48 L650.25,90.30 L651.71,89.94 L653.17,88.92 L654.63,87.08 L656.09,84.82 L657.55,82.58 L659.01,80.78 L660.47,79.67 L661.93,78.73 L663.39,77.89 L664.85,77.15 L666.31,76.51 L667.77,75.96 L669.23,75.50 L670.69,75.13 L672.15,74.85 L673.61,74.68 L675.07,74.72 L676.53,74.93 L677.99,75.26 L679.45,75.67 L680.91,76.10 L682.37,76.50 L683.83,76.83" stroke="#e4468a" stroke-width="0.8" fill="none" stroke-linejoin="round" opacity="1"/>
<path d="M568.20,77.52 L568.78,68.69 L569.37,59.86 L569.95,51.02 L570.54,42.19 L571.12,33.36 L571.70,33.36 L572.29,33.36 L572.87,33.36 L573.46,33.36 L574.04,33.36 L574.62,33.36 L575.21,33.36 L575.79,33.36 L576.38,33.36 L576.96,33.36 L577.54,33.36 L578.13,33.36 L578.71,33.36 L579.30,33.36 L579.88,33.36 L580.46,33.36 L581.05,36.69 L581.63,39.74 L582.22,42.52 L582.80,45.09 L583.38,47.26 L583.97,49.28 L584.55,51.15 L585.14,52.91 L585.72,54.55 L586.30,56.09 L586.89,57.56 L587.47,58.96 L588.06,60.29 L588.64,61.55 L589.22,62.73 L589.81,63.85 L590.39,64.92 L590.98,65.93 L591.56,66.89 L592.14,67.80 L592.73,68.66 L593.31,69.48 L593.90,70.27 L594.48,71.02 L595.06,71.74 L595.65,72.43 L596.23,73.09 L596.82,73.73 L597.40,74.34 L597.98,74.93 L598.57,75.50 L599.15,76.05 L599.74,76.57 L600.32,77.10 L600.90,77.62 L601.49,78.13 L602.07,78.61 L602.66,79.08 L603.24,79.54 L603.82,79.98 L604.41,80.40 L604.99,80.82 L605.58,81.22 L606.16,81.60 L606.74,81.98 L607.33,82.34 L607.91,82.70 L608.50,83.04 L609.08,83.36 L609.66,83.68 L610.25,83.98 L610.83,84.28 L611.42,84.57 L612.00,84.85 L612.58,85.12 L613.17,85.39 L613.75,85.65 L614.34,85.90 L614.92,86.15 L615.50,86.39 L616.09,86.63 L616.67,86.86 L617.26,87.07 L617.84,87.27 L618.42,87.47 L619.01,87.66 L619.59,87.85 L620.18,88.03 L620.76,88.21 L621.34,88.39 L621.93,88.56 L622.51,88.73 L623.10,88.90 L623.68,89.06 L624.26,89.22 L624.85,89.37 L625.43,89.53 L626.02,89.81 L626.60,90.09 L627.18,90.36 L627.77,90.62 L628.35,90.87 L628.94,91.12 L629.52,91.36 L630.10,91.60 L630.69,91.83 L631.27,92.06 L631.86,92.28 L632.44,92.49 L633.02,92.70 L633.61,92.89 L634.19,93.08 L634.78,93.26 L635.36,93.44 L635.94,93.62 L636.53,93.79 L637.11,93.95 L637.70,94.12 L638.28,94.28 L638.86,94.44 L639.45,94.59 L640.03,94.74 L640.62,94.89 L641.20,95.03 L641.78,95.17 L642.37,95.31 L642.95,95.45 L643.54,95.58 L644.12,95.71 L644.70,95.84 L645.29,95.97 L645.87,96.09 L646.46,96.20 L647.04,96.29 L647.62,96.38 L648.21,96.47 L648.79,96.56 L649.38,96.65 L649.96,96.74 L650.54,96.82 L651.13,96.91 L651.71,96.99 L652.30,97.07 L652.88,97.15 L653.46,97.23 L654.05,97.30 L654.63,97.38 L655.22,97.46 L655.80,97.53 L656.38,97.60 L656.97,97.67 L657.55,97.74 L658.14,97.81 L658.72,97.87 L659.30,97.94 L659.89,98.01 L660.47,98.07 L661.06,98.13 L661.64,98.20 L662.22,98.26 L662.81,98.32 L663.39,98.38 L663.98,98.44 L664.56,98.50 L665.14,98.55 L665.73,98.61 L666.31,98.67 L666.90,98.72 L667.48,98.78 L668.06,98.83 L668.65,98.88 L669.23,98.94 L669.82,99.00 L670.40,99.06 L670.98,99.11 L671.57,99.17 L672.15,99.23 L672.74,99.28 L673.32,99.34 L673.90,99.39 L674.49,99.44 L675.07,99.49 L675.66,99.55 L676.24,99.60 L676.82,99.65 L677.41,99.70 L677.99,99.75 L678.58,99.79 L679.16,99.84 L679.74,99.89 L680.33,99.94 L680.91,99.98 L681.50,100.03 L682.08,100.07 L682.66,100.12 L683.25,100.16 L683.83,100.20 L684.42,100.25" stroke="#ef4b4b" stroke-width="1.0" fill="none" stroke-linejoin="round" opacity="1"/>
<path d="M568.20,72.00 L568.78,66.28 L569.37,60.57 L569.95,54.85 L570.54,49.13 L571.12,43.41 L571.70,37.96 L572.29,32.81 L572.87,32.95 L573.46,32.85 L574.04,31.52 L574.62,33.01 L575.21,32.73 L575.79,31.99 L576.38,32.48 L576.96,31.46 L577.54,32.84 L578.13,33.16 L578.71,32.77 L579.30,34.00 L579.88,32.25 L580.46,34.46 L581.05,35.12 L581.63,34.98 L582.22,37.08 L582.80,38.43 L583.38,40.58 L583.97,42.58 L584.55,44.45 L585.14,46.19 L585.72,47.77 L586.30,49.26 L586.89,50.66 L587.47,51.99 L588.06,53.44 L588.64,54.82 L589.22,56.12 L589.81,57.35 L590.39,58.53 L590.98,59.64 L591.56,60.70 L592.14,61.92 L592.73,63.13 L593.31,64.24 L593.90,65.26 L594.48,66.22 L595.06,67.14 L595.65,68.03 L596.23,68.87 L596.82,69.68 L597.40,70.46 L597.98,71.20 L598.57,71.92 L599.15,72.60 L599.74,73.27 L600.32,73.88 L600.90,74.44 L601.49,74.98 L602.07,75.50 L602.66,76.01 L603.24,76.50 L603.82,76.97 L604.41,77.43 L604.99,77.88 L605.58,78.31 L606.16,78.73 L606.74,79.13 L607.33,79.53 L607.91,79.91 L608.50,80.28 L609.08,80.62 L609.66,80.95 L610.25,81.27 L610.83,81.58 L611.42,81.88 L612.00,82.18 L612.58,82.47 L613.17,82.75 L613.75,83.02 L614.34,83.29 L614.92,83.55 L615.50,83.81 L616.09,84.06 L616.67,84.30 L617.26,84.52 L617.84,84.72 L618.42,84.91 L619.01,85.10 L619.59,85.29 L620.18,85.47 L620.76,85.65 L621.34,85.83 L621.93,86.00 L622.51,86.17 L623.10,86.34 L623.68,86.50 L624.26,86.66 L624.85,86.82 L625.43,86.97 L626.02,87.13 L626.60,87.28 L627.18,87.44 L627.77,87.59 L628.35,87.73 L628.94,87.88 L629.52,88.02 L630.10,88.16 L630.69,88.29 L631.27,88.43 L631.86,88.56 L632.44,88.69 L633.02,88.82 L633.61,88.94 L634.19,89.07 L634.78,89.19 L635.36,89.28 L635.94,89.34 L636.53,89.40 L637.11,89.45 L637.70,89.51 L638.28,89.57 L638.86,89.62 L639.45,89.68 L640.03,89.73 L640.62,89.78 L641.20,89.84 L641.78,89.89 L642.37,89.94 L642.95,90.13 L643.54,90.31 L644.12,90.50 L644.70,90.67 L645.29,90.85 L645.87,91.02 L646.46,91.19 L647.04,91.36 L647.62,91.52 L648.21,91.68 L648.79,91.83 L649.38,91.99 L649.96,92.14 L650.54,92.29 L651.13,92.43 L651.71,92.58 L652.30,92.72 L652.88,92.86 L653.46,92.99 L654.05,93.13 L654.63,93.26 L655.22,93.39 L655.80,93.54 L656.38,93.68 L656.97,93.82 L657.55,93.96 L658.14,94.10 L658.72,94.23 L659.30,94.36 L659.89,94.49 L660.47,94.62 L661.06,94.75 L661.64,94.87 L662.22,94.99 L662.81,95.11 L663.39,95.23 L663.98,95.34 L664.56,95.46 L665.14,95.57 L665.73,95.68 L666.31,95.79 L666.90,95.89 L667.48,96.00 L668.06,96.10 L668.65,96.18 L669.23,96.23 L669.82,96.29 L670.40,96.34 L670.98,96.40 L671.57,96.45 L672.15,96.50 L672.74,96.55 L673.32,96.61 L673.90,96.66 L674.49,96.71 L675.07,96.76 L675.66,96.81 L676.24,96.85 L676.82,96.90 L677.41,96.95 L677.99,97.00 L678.58,97.05 L679.16,97.09 L679.74,97.14 L680.33,97.18 L680.91,97.23 L681.50,97.27 L682.08,97.32 L682.66,97.36 L683.25,97.40 L683.83,97.45 L684.42,97.49" stroke="#1a1a1a" stroke-width="0.95" fill="none" stroke-linejoin="round" opacity="1"/>
</g>
<rect x="568.6" y="2.5" width="115.2" height="106.1" fill="none" stroke="#555" stroke-width="1.2"/>
<path d="M582.8,108.6v-1.6M582.8,2.5v1.6M597.4,108.6v-1.6M597.4,2.5v1.6M612.0,108.6v-1.6M612.0,2.5v1.6M626.6,108.6v-1.6M626.6,2.5v1.6M641.2,108.6v-1.6M641.2,2.5v1.6M655.8,108.6v-1.6M655.8,2.5v1.6M670.4,108.6v-1.6M670.4,2.5v1.6M568.6,20.0h1.6M683.8,20.0h-1.6M568.6,37.5h1.6M683.8,37.5h-1.6M568.6,55.0h1.6M683.8,55.0h-1.6M568.6,72.0h1.6M683.8,72.0h-1.6M568.6,89.2h1.6M683.8,89.2h-1.6" stroke="#444" stroke-width="0.9" fill="none"/>
<text x="563.8" y="9.8" font-size="12.8" text-anchor="end" fill="#1e1e1e" stroke="#1e1e1e" >1.5</text>
<text x="563.8" y="40.6" font-size="12.8" text-anchor="end" fill="#1e1e1e" stroke="#1e1e1e" >1.0</text>
<text x="563.8" y="75.7" font-size="12.8" text-anchor="end" fill="#1e1e1e" stroke="#1e1e1e" >0.5</text>
<text x="563.8" y="109.9" font-size="12.8" text-anchor="end" fill="#1e1e1e" stroke="#1e1e1e" >0.0</text>
<text x="572.2" y="121.0" font-size="12.8" text-anchor="middle" fill="#1e1e1e" stroke="#1e1e1e" >0</text>
<text x="598.5" y="121.0" font-size="12.8" text-anchor="middle" fill="#1e1e1e" stroke="#1e1e1e" >1</text>
<text x="626.6" y="121.0" font-size="12.8" text-anchor="middle" fill="#1e1e1e" stroke="#1e1e1e" >2</text>
<text x="656.5" y="121.0" font-size="12.8" text-anchor="middle" fill="#1e1e1e" stroke="#1e1e1e" >3</text>
<text x="680.4" y="121.0" font-size="12.8" text-anchor="middle" fill="#1e1e1e" stroke="#1e1e1e" >4</text>
<text transform="translate(541.9,57.0) rotate(-90)" font-size="13.75" text-anchor="middle" fill="#33282a" stroke="#33282a">PS-Acc (g)</text>
<path d="M589.8,10.4H600.4" stroke="#ef4b4b" stroke-width="1.0"/>
<text x="601.0" y="13.9" font-size="10.5" text-anchor="start" fill="#1e1e1e" stroke="#1e1e1e" style="stroke-width:0.15px">RS</text>
<path d="M615.4,10.4H626.0" stroke="#c3c8ef" stroke-width="1.0"/>
<text x="626.6" y="13.9" font-size="10.5" text-anchor="start" fill="#1e1e1e" stroke="#1e1e1e" style="stroke-width:0.15px">S1</text>
<path d="M638.3,10.4H648.5" stroke="#7c74c4" stroke-width="1.0"/>
<text x="648.5" y="13.9" font-size="10.5" text-anchor="start" fill="#1e1e1e" stroke="#1e1e1e" style="stroke-width:0.15px">S2</text>
<path d="M660.9,10.4H670.4" stroke="#efefb4" stroke-width="1.0"/>
<text x="670.4" y="13.9" font-size="10.5" text-anchor="start" fill="#1e1e1e" stroke="#1e1e1e" style="stroke-width:0.15px">S3</text>
<path d="M590.0,20.3H600.3" stroke="#5b78c6" stroke-width="1.0"/>
<text x="600.8" y="23.8" font-size="10.5" text-anchor="start" fill="#1e1e1e" stroke="#1e1e1e" style="stroke-width:0.15px">S4</text>
<path d="M615.4,20.3H626.0" stroke="#ef8fbf" stroke-width="1.0"/>
<text x="626.6" y="23.8" font-size="10.5" text-anchor="start" fill="#1e1e1e" stroke="#1e1e1e" style="stroke-width:0.15px">S5</text>
<path d="M638.3,20.3H648.5" stroke="#e4468a" stroke-width="1.0"/>
<text x="648.5" y="23.8" font-size="10.5" text-anchor="start" fill="#1e1e1e" stroke="#1e1e1e" style="stroke-width:0.15px">S6</text>
<path d="M660.9,20.3H670.4" stroke="#e6b6e6" stroke-width="1.0"/>
<text x="670.4" y="23.8" font-size="10.5" text-anchor="start" fill="#1e1e1e" stroke="#1e1e1e" style="stroke-width:0.15px">S7</text>
<path d="M635.4,29.9H645.6" stroke="#ece33c" stroke-width="1.0"/>
<text x="646.0" y="33.4" font-size="10.5" text-anchor="start" fill="#1e1e1e" stroke="#1e1e1e" style="stroke-width:0.15px">S8</text>
<path d="M659.5,29.9H669.7" stroke="#a6d68e" stroke-width="1.0"/>
<text x="670.4" y="33.4" font-size="10.5" text-anchor="start" fill="#1e1e1e" stroke="#1e1e1e" style="stroke-width:0.15px">S9</text>
<path d="M644.0,39.4H654.3" stroke="#f6b68e" stroke-width="1.0"/>
<text x="656.3" y="42.9" font-size="10.5" text-anchor="start" fill="#1e1e1e" stroke="#1e1e1e" style="stroke-width:0.15px">S10</text>
<path d="M644.0,48.6H654.3" stroke="#1a1a1a" stroke-width="1.0"/>
<text x="655.0" y="52.4" font-size="11.55" text-anchor="start" fill="#1e1e1e" stroke="#1e1e1e" style="stroke-width:0.3px">mean</text>
<rect x="61.2" y="139.7" width="111.5" height="102.9" fill="none" stroke="#6a6a6a" stroke-width="1.2"/>
<path d="M61.80,190.78 L62.30,192.09 L62.80,189.93 L63.30,191.97 L63.80,189.34 L64.30,192.22 L64.80,185.25 L65.30,194.69 L65.80,190.19 L66.30,194.09 L66.80,189.71 L67.30,198.29 L67.80,186.84 L68.30,197.28 L68.80,187.01 L69.30,195.16 L69.80,182.24 L70.30,197.98 L70.90,179.40 L71.30,192.84 L71.80,188.32 L72.30,198.49 L72.80,188.87 L73.30,201.60 L73.80,188.28 L74.30,198.08 L74.80,185.44 L75.30,202.80 L75.80,187.25 L76.30,196.50 L76.80,190.47 L77.70,167.10 L78.05,196.74 L78.90,182.89 L80.20,218.80 L80.60,178.46 L81.45,201.68 L83.20,178.20 L84.40,226.20 L84.00,179.88 L84.85,201.52 L85.60,143.70 L87.60,234.80 L88.10,164.60 L88.25,213.11 L90.10,157.20 L90.60,213.90 L91.80,163.40 L91.65,204.71 L92.50,183.30 L94.30,221.30 L94.30,162.20 L95.05,204.59 L96.70,160.90 L97.50,239.80 L97.60,167.20 L98.45,202.04 L99.20,172.00 L100.40,223.70 L102.10,154.80 L102.90,216.40 L102.70,179.76 L103.55,210.51 L104.10,164.60 L105.30,227.40 L106.60,159.70 L107.80,226.20 L109.00,164.60 L108.65,195.75 L109.50,185.66 L110.30,213.90 L111.50,157.20 L112.70,217.60 L112.90,182.40 L113.75,193.68 L114.40,153.50 L115.70,213.90 L116.40,159.70 L118.10,228.70 L118.00,178.86 L118.85,217.49 L120.10,165.90 L121.30,216.40 L121.40,169.47 L122.25,201.48 L123.80,164.60 L125.00,218.80 L124.80,179.44 L125.65,209.27 L126.30,169.60 L127.35,195.35 L128.70,169.60 L128.70,206.50 L129.90,185.86 L130.75,202.22 L131.60,181.71 L132.40,180.60 L132.40,202.80 L133.00,186.94 L133.40,201.19 L133.80,186.57 L134.20,197.27 L134.60,181.76 L135.00,196.09 L135.40,181.97 L135.80,196.53 L136.20,182.47 L136.60,200.05 L137.40,179.40 L137.40,201.60 L137.80,183.83 L138.20,197.91 L138.60,187.80 L139.00,192.44 L139.40,187.61 L139.80,196.25 L140.20,190.46 L140.60,199.86 L141.00,181.90 L141.40,196.80 L141.80,184.47 L142.20,198.39 L142.60,185.91 L143.00,193.36 L143.40,184.77 L143.80,194.65 L144.70,176.90 L144.70,205.30 L145.00,187.33 L145.40,198.62 L145.80,182.76 L146.20,196.66 L146.60,188.06 L147.00,195.10 L147.40,185.71 L147.80,194.21 L148.40,179.40 L148.60,195.59 L149.00,188.71 L149.70,199.10 L149.80,185.00 L150.20,194.02 L150.60,187.05 L151.00,192.57 L151.40,188.34 L151.80,195.35 L152.20,190.49 L152.60,196.58 L153.40,184.30 L153.40,193.12 L153.80,184.52 L154.60,200.30 L154.60,183.14 L155.00,193.46 L155.80,183.10 L155.80,193.83 L156.20,189.51 L156.60,194.96 L157.00,188.45 L157.40,193.69 L157.80,187.89 L158.20,194.22 L158.60,189.36 L159.50,199.10 L159.40,187.46 L159.80,193.33 L160.20,184.12 L160.60,193.12 L161.00,188.54 L161.40,191.46 L162.00,183.10 L162.20,194.54 L162.60,187.63 L163.00,193.01 L163.40,185.36 L163.80,193.60 L164.20,186.82 L164.40,196.70 L165.00,186.00 L165.40,192.47 L165.70,185.60 L166.20,193.95 L166.60,188.64 L167.00,191.99 L167.40,187.47 L167.80,192.94 L168.20,189.60 L168.60,191.82 L169.00,190.40 L169.40,191.80 L169.80,189.51 L170.20,192.47 L170.60,189.99 L171.00,191.57 L171.40,191.01 L171.80,192.22 L172.20,190.42" stroke="#000" stroke-width="0.75" fill="none" stroke-linejoin="round" opacity="1"/>
<path d="M80.5,242.6v-1.6M80.5,139.7v1.6M98.0,242.6v-1.6M98.0,139.7v1.6M116.5,242.6v-1.6M116.5,139.7v1.6M135.0,242.6v-1.6M135.0,139.7v1.6M153.5,242.6v-1.6M153.5,139.7v1.6M61.2,155.0h1.6M172.7,155.0h-1.6M61.2,167.5h1.6M172.7,167.5h-1.6M61.2,179.5h1.6M172.7,179.5h-1.6M61.2,203.5h1.6M172.7,203.5h-1.6M61.2,215.5h1.6M172.7,215.5h-1.6M61.2,227.5h1.6M172.7,227.5h-1.6" stroke="#444" stroke-width="0.9" fill="none"/>
<text x="60.4" y="148.0" font-size="12.8" text-anchor="end" fill="#1e1e1e" stroke="#1e1e1e" >0.50</text>
<text x="59.8" y="171.5" font-size="12.8" text-anchor="end" fill="#1e1e1e" stroke="#1e1e1e" >0.25</text>
<text x="57.7" y="196.5" font-size="12.8" text-anchor="end" fill="#1e1e1e" stroke="#1e1e1e" >0</text>
<text x="59.1" y="220.8" font-size="12.8" text-anchor="end" fill="#1e1e1e" stroke="#1e1e1e" >-0.25</text>
<text x="59.9" y="242.7" font-size="12.8" text-anchor="end" fill="#1e1e1e" stroke="#1e1e1e" >-0.50</text>
<text x="64.6" y="257.0" font-size="12.8" text-anchor="middle" fill="#1e1e1e" stroke="#1e1e1e" >0</text>
<text x="97.4" y="257.0" font-size="12.8" text-anchor="middle" fill="#1e1e1e" stroke="#1e1e1e" >7</text>
<text x="139.8" y="257.0" font-size="12.8" text-anchor="middle" fill="#1e1e1e" stroke="#1e1e1e" >14</text>
<text x="170.0" y="257.0" font-size="12.8" text-anchor="middle" fill="#1e1e1e" stroke="#1e1e1e" >21</text>
<text transform="translate(31.2,186.6) rotate(-90)" font-size="12.5" text-anchor="middle" fill="#33282a" stroke="#33282a">Acceleration (g)</text>
<path d="M135.2,150.4H149.1" stroke="#8a8a8a" stroke-width="1.1"/>
<text x="151.6" y="154.1" font-size="12" text-anchor="start" fill="#1e1e1e" stroke="#1e1e1e" >S11</text>
<text x="1.0" y="200.4" font-size="16.5" text-anchor="start" fill="#161616" stroke="#161616" >(b)</text>
<rect x="231.5" y="139.0" width="115.3" height="106.5" fill="none" stroke="#6a6a6a" stroke-width="1.2"/>
<path d="M231.80,195.20 L232.30,195.41 L232.80,194.54 L233.30,195.20 L233.80,194.42 L234.30,194.74 L234.80,194.40 L235.30,194.21 L235.80,193.12 L236.30,193.34 L236.80,191.99 L237.30,191.90 L237.83,189.29 L238.35,187.82 L238.88,184.83 L239.40,183.00 L239.97,180.92 L240.53,179.67 L241.10,177.50 L241.75,178.60 L242.40,179.20 L243.05,182.87 L243.70,185.60 L244.30,194.67 L244.90,203.30 L245.50,210.48 L246.10,216.54 L246.70,223.50 L247.35,210.44 L248.00,198.20 L248.60,170.70 L249.20,143.80 L249.70,153.18 L250.20,163.65 L250.70,172.90 L251.35,188.31 L252.00,203.30 L252.65,209.22 L253.30,214.70 L253.80,208.22 L254.30,200.80 L254.95,207.45 L255.60,213.40 L256.20,228.83 L256.80,243.80 L257.30,216.45 L257.80,188.10 L258.30,209.48 L258.80,229.90 L259.45,217.48 L260.10,204.60 L260.75,206.83 L261.40,208.40 L262.00,193.44 L262.60,178.00 L263.25,183.99 L263.90,189.40 L264.55,185.99 L265.20,181.80 L265.80,189.00 L266.40,195.70 L266.93,189.34 L267.47,181.95 L268.00,175.40 L268.50,189.10 L269.00,203.30 L269.60,221.86 L270.20,241.30 L270.85,230.83 L271.50,221.00 L272.15,211.82 L272.80,203.30 L273.40,207.97 L274.00,213.40 L274.65,196.61 L275.30,180.50 L275.95,168.78 L276.60,157.70 L277.20,171.44 L277.80,185.60 L278.45,183.28 L279.10,181.80 L279.75,200.91 L280.40,221.00 L281.00,197.71 L281.60,175.40 L282.25,182.60 L282.90,190.60 L283.55,199.19 L284.20,208.40 L284.80,192.24 L285.40,176.70 L286.05,188.34 L286.70,200.80 L287.20,186.77 L287.70,173.78 L288.20,159.65 L288.70,146.30 L289.40,163.14 L290.10,180.60 L290.70,199.30 L291.30,218.70 L291.95,204.31 L292.60,190.80 L293.25,205.05 L293.90,220.00 L294.55,205.19 L295.20,190.80 L295.77,174.69 L296.33,159.80 L296.90,143.80 L297.55,158.76 L298.20,173.00 L298.85,184.67 L299.50,195.80 L300.10,192.33 L300.70,188.20 L301.35,183.47 L302.00,178.10 L302.65,175.98 L303.30,173.00 L303.90,184.63 L304.50,195.80 L305.15,201.26 L305.80,206.00 L306.30,204.12 L306.80,201.32 L307.30,199.60 L307.90,202.36 L308.50,205.82 L309.10,208.50 L309.75,213.25 L310.40,217.40 L311.00,213.16 L311.60,207.92 L312.20,203.50 L312.80,208.21 L313.40,213.60 L313.93,210.80 L314.47,208.82 L315.00,206.00 L315.60,210.79 L316.20,214.90 L316.80,211.59 L317.40,206.96 L318.00,203.50 L318.60,204.28 L319.20,206.28 L319.80,207.30 L320.30,205.85 L320.80,203.14 L321.30,201.78 L321.80,199.60 L322.45,201.97 L323.10,203.50 L323.70,198.22 L324.30,192.00 L324.95,197.30 L325.60,202.20 L326.10,200.26 L326.60,197.32 L327.10,195.83 L327.60,193.30 L328.20,187.64 L328.80,181.23 L329.40,175.50 L330.05,177.84 L330.70,180.60 L331.35,180.86 L332.00,181.90 L332.57,183.10 L333.13,185.80 L333.70,187.00 L334.23,186.92 L334.77,185.93 L335.30,185.70 L335.87,187.10 L336.43,189.54 L337.00,190.80 L337.52,191.49 L338.04,190.89 L338.56,191.79 L339.08,191.40 L339.60,192.00 L340.17,192.52 L340.73,194.12 L341.30,194.60 L341.82,195.50 L342.35,195.37 L342.88,196.94 L343.40,197.10 L343.90,197.67 L344.40,197.46 L344.90,198.54 L345.40,198.40 L345.95,197.73 L346.50,196.50" stroke="#111" stroke-width="0.9" fill="none" stroke-linejoin="round" opacity="1"/>
<path d="M249.0,245.5v-1.6M249.0,139.0v1.6M270.2,245.5v-1.6M270.2,139.0v1.6M291.0,245.5v-1.6M291.0,139.0v1.6M312.0,245.5v-1.6M312.0,139.0v1.6M333.0,245.5v-1.6M333.0,139.0v1.6M231.5,157.5h1.6M346.8,157.5h-1.6M231.5,182.5h1.6M346.8,182.5h-1.6M231.5,207.5h1.6M346.8,207.5h-1.6M231.5,232.0h1.6M346.8,232.0h-1.6" stroke="#444" stroke-width="0.9" fill="none"/>
<text x="228.3" y="149.7" font-size="12.8" text-anchor="end" fill="#1e1e1e" stroke="#1e1e1e" >0.4</text>
<text x="228.3" y="173.9" font-size="12.8" text-anchor="end" fill="#1e1e1e" stroke="#1e1e1e" >0.2</text>
<text x="228.3" y="199.3" font-size="12.8" text-anchor="end" fill="#1e1e1e" stroke="#1e1e1e" >0</text>
<text x="228.3" y="224.0" font-size="12.8" text-anchor="end" fill="#1e1e1e" stroke="#1e1e1e" >-0.2</text>
<text x="228.3" y="245.8" font-size="12.8" text-anchor="end" fill="#1e1e1e" stroke="#1e1e1e" >-0.4</text>
<text x="235.5" y="258.6" font-size="12.8" text-anchor="middle" fill="#1e1e1e" stroke="#1e1e1e" >0</text>
<text x="270.2" y="258.6" font-size="12.8" text-anchor="middle" fill="#1e1e1e" stroke="#1e1e1e" >7</text>
<text x="312.0" y="258.6" font-size="12.8" text-anchor="middle" fill="#1e1e1e" stroke="#1e1e1e" >14</text>
<text x="341.8" y="258.6" font-size="12.8" text-anchor="middle" fill="#1e1e1e" stroke="#1e1e1e" >21</text>
<text transform="translate(198.4,195.6) rotate(-90)" font-size="13" text-anchor="middle" fill="#33282a" stroke="#33282a">Velocity (m/s)</text>
<path d="M307.7,149.3H321.9" stroke="#333" stroke-width="1.0"/>
<text x="324.1" y="153.0" font-size="12" text-anchor="start" fill="#1e1e1e" stroke="#1e1e1e" >S11</text>
<rect x="401.0" y="138.5" width="115.4" height="106.3" fill="none" stroke="#6a6a6a" stroke-width="1.2"/>
<path d="M401.30,192.30 L405.20,191.00 L407.80,188.40 L409.80,183.20 L411.60,171.60 L413.40,162.50 L414.70,160.00 L416.00,166.40 L417.60,179.30 L418.60,172.90 L420.20,149.60 L421.40,145.80 L423.30,153.50 L425.10,161.30 L426.60,169.00 L427.90,180.60 L429.20,185.80 L430.20,193.60 L431.80,201.30 L433.10,196.10 L434.40,197.40 L436.20,193.60 L438.80,185.80 L440.10,200.00 L441.90,223.30 L443.40,229.70 L444.70,236.70 L446.00,231.00 L447.30,220.70 L449.10,214.20 L450.40,223.30 L451.70,218.10 L453.00,222.00 L454.30,219.40 L456.80,223.30 L458.70,202.60 L459.90,185.80 L461.50,192.30 L463.30,201.30 L465.10,196.10 L466.70,176.80 L468.00,163.80 L469.80,161.30 L471.80,153.50 L474.20,144.50 L476.20,152.20 L478.80,161.30 L481.40,174.20 L484.00,187.10 L486.60,202.60 L489.10,215.50 L491.70,228.40 L494.30,231.00 L496.10,233.60 L498.20,235.70 L500.80,223.30 L503.40,210.40 L506.50,200.00 L509.80,193.60 L513.20,194.80 L516.10,198.70" stroke="#111" stroke-width="0.95" fill="none" stroke-linejoin="round" opacity="1"/>
<path d="M420.0,244.8v-1.6M420.0,138.5v1.6M440.2,244.8v-1.6M440.2,138.5v1.6M460.0,244.8v-1.6M460.0,138.5v1.6M481.0,244.8v-1.6M481.0,138.5v1.6M501.0,244.8v-1.6M501.0,138.5v1.6M401.0,154.0h1.6M516.4,154.0h-1.6M401.0,179.0h1.6M516.4,179.0h-1.6M401.0,204.5h1.6M516.4,204.5h-1.6M401.0,229.0h1.6M516.4,229.0h-1.6" stroke="#444" stroke-width="0.9" fill="none"/>
<text x="398.3" y="146.2" font-size="12.8" text-anchor="end" fill="#1e1e1e" stroke="#1e1e1e" >0.2</text>
<text x="398.3" y="169.5" font-size="12.8" text-anchor="end" fill="#1e1e1e" stroke="#1e1e1e" >0.1</text>
<text x="398.3" y="196.5" font-size="12.8" text-anchor="end" fill="#1e1e1e" stroke="#1e1e1e" >0</text>
<text x="398.3" y="221.2" font-size="12.8" text-anchor="end" fill="#1e1e1e" stroke="#1e1e1e" >-0.1</text>
<text x="398.3" y="244.2" font-size="12.8" text-anchor="end" fill="#1e1e1e" stroke="#1e1e1e" >-0.2</text>
<text x="403.5" y="256.0" font-size="12.8" text-anchor="middle" fill="#1e1e1e" stroke="#1e1e1e" >0</text>
<text x="440.2" y="256.0" font-size="12.8" text-anchor="middle" fill="#1e1e1e" stroke="#1e1e1e" >7</text>
<text x="481.0" y="256.0" font-size="12.8" text-anchor="middle" fill="#1e1e1e" stroke="#1e1e1e" >14</text>
<text x="511.8" y="256.0" font-size="12.8" text-anchor="middle" fill="#1e1e1e" stroke="#1e1e1e" >21</text>
<text transform="translate(371.7,192.0) rotate(-90)" font-size="13.3" text-anchor="middle" fill="#33282a" stroke="#33282a">Displacement(m)</text>
<path d="M478.8,148.2H492.6" stroke="#333" stroke-width="1.0"/>
<text x="495.2" y="151.9" font-size="12" text-anchor="start" fill="#1e1e1e" stroke="#1e1e1e" >S11</text>
<clipPath id="c567137"><rect x="567.5" y="137.2" width="115.29999999999995" height="106.60000000000002"/></clipPath>
<g clip-path="url(#c567137)">
<path d="M567.50,210.26 L568.08,203.34 L568.66,195.42 L569.24,189.08 L569.82,180.86 L570.40,173.45 L570.98,166.16 L571.56,158.73 L572.14,154.79 L572.72,164.93 L573.30,163.64 L573.88,158.51 L574.46,165.02 L575.04,166.27 L575.62,165.53 L576.20,165.58 L576.78,167.91 L577.36,167.86 L577.94,169.08 L578.52,166.01 L579.10,168.80 L579.68,167.31 L580.26,168.18 L580.84,168.22 L581.42,168.67 L582.00,173.07 L582.87,174.71 L583.74,175.49 L584.61,176.71 L585.48,179.12 L586.35,182.58 L587.22,186.20 L588.09,188.92 L588.96,190.22 L589.83,190.57 L590.70,191.05 L591.57,192.77 L592.44,195.68 L593.31,199.07 L594.18,201.79 L595.05,203.13 L595.92,203.25 L596.79,203.11 L597.66,203.77 L598.53,205.63 L599.40,208.19 L600.27,210.36 L601.14,211.25 L602.01,210.79 L602.88,209.82 L603.75,209.39 L604.62,210.18 L605.49,211.95 L606.36,213.72 L607.23,214.48 L608.10,213.91 L608.97,212.61 L609.84,211.69 L610.71,212.02 L611.58,213.65 L612.45,215.69 L613.32,217.02 L614.19,217.05 L615.06,216.15 L615.93,215.30 L616.80,215.49 L617.67,217.07 L618.54,219.30 L619.41,221.05 L620.28,221.51 L621.15,220.74 L622.02,219.63 L622.89,219.32 L623.76,220.31 L624.63,221.88 L625.50,223.03 L626.37,223.21 L627.24,222.62 L628.11,221.91 L628.98,221.67 L629.85,221.98 L630.72,222.48 L631.59,222.78 L632.46,222.78 L633.33,222.82 L634.20,222.91 L635.07,222.99 L635.94,223.08 L636.81,223.16 L637.68,223.25 L638.55,223.34 L639.42,223.43 L640.29,223.53 L641.74,223.67 L643.19,223.77 L644.64,223.84 L646.09,223.89 L647.54,223.93 L648.99,223.96 L650.44,224.00 L651.89,224.04 L653.34,224.11 L654.79,224.20 L656.24,224.31 L657.69,224.43 L659.14,224.56 L660.59,224.70 L662.04,224.85 L663.49,224.99 L664.94,225.14 L666.39,225.29 L667.84,225.43 L669.29,225.57 L670.74,225.70 L672.19,225.84 L673.64,225.98 L675.09,226.11 L676.54,226.25 L677.99,226.38 L679.44,226.52 L680.89,226.66 L682.34,226.79" stroke="#c3c8ef" stroke-width="0.8" fill="none" stroke-linejoin="round" opacity="1"/>
<path d="M567.50,210.43 L568.08,202.85 L568.66,194.75 L569.24,187.82 L569.82,181.87 L570.40,174.75 L570.98,166.75 L571.56,167.92 L572.14,168.70 L572.72,166.01 L573.30,166.70 L573.88,168.34 L574.46,160.09 L575.04,158.50 L575.62,164.52 L576.20,168.05 L576.78,166.52 L577.36,165.58 L577.94,168.98 L578.52,168.01 L579.10,167.93 L579.68,164.52 L580.26,161.84 L580.84,166.11 L581.42,169.62 L582.00,176.50 L582.87,177.15 L583.74,177.81 L584.61,180.11 L585.48,183.50 L586.35,186.05 L587.22,186.50 L588.09,185.64 L588.96,185.51 L589.83,187.37 L590.70,190.43 L591.57,193.12 L592.44,193.87 L593.31,193.65 L594.18,194.47 L595.05,197.26 L595.92,200.90 L596.79,203.34 L597.66,203.70 L598.53,203.18 L599.40,203.74 L600.27,206.08 L601.14,208.89 L602.01,210.18 L602.88,209.54 L603.75,208.30 L604.62,208.39 L605.49,210.29 L606.36,212.51 L607.23,213.19 L608.10,212.07 L608.97,210.80 L609.84,211.24 L610.71,213.54 L611.58,216.07 L612.45,216.99 L613.32,216.25 L614.19,215.63 L615.06,216.86 L615.93,219.69 L616.80,222.29 L617.67,222.90 L618.54,221.90 L619.41,221.14 L620.28,222.14 L621.15,224.50 L622.02,226.32 L622.89,226.15 L623.76,224.74 L624.63,224.15 L625.50,225.19 L626.37,226.93 L627.24,227.95 L628.11,227.90 L628.98,227.57 L629.85,227.83 L630.72,228.67 L631.59,229.41 L632.46,229.72 L633.33,230.02 L634.20,230.36 L635.07,230.69 L635.94,231.01 L636.81,231.32 L637.68,231.61 L638.55,231.90 L639.42,232.17 L640.29,232.42 L641.74,232.77 L643.19,233.02 L644.64,233.19 L646.09,233.30 L647.54,233.36 L648.99,233.41 L650.44,233.45 L651.89,233.50 L653.34,233.59 L654.79,233.73 L656.24,233.89 L657.69,234.05 L659.14,234.22 L660.59,234.38 L662.04,234.55 L663.49,234.72 L664.94,234.89 L666.39,235.06 L667.84,235.23 L669.29,235.41 L670.74,235.58 L672.19,235.75 L673.64,235.93 L675.09,236.10 L676.54,236.27 L677.99,236.45 L679.44,236.62 L680.89,236.79 L682.34,236.96" stroke="#efefb4" stroke-width="0.8" fill="none" stroke-linejoin="round" opacity="1"/>
<path d="M567.50,210.04 L568.08,203.22 L568.66,196.39 L569.24,189.03 L569.82,182.22 L570.40,174.41 L570.98,169.06 L571.56,167.06 L572.14,165.61 L572.72,167.23 L573.30,167.72 L573.88,156.24 L574.46,144.48 L575.04,157.26 L575.62,165.50 L576.20,165.70 L576.78,166.90 L577.36,168.78 L577.94,168.89 L578.52,167.84 L579.10,166.74 L579.68,168.51 L580.26,166.67 L580.84,168.23 L581.42,170.07 L582.00,173.10 L582.87,177.10 L583.74,179.87 L584.61,181.64 L585.48,182.81 L586.35,183.96 L587.22,185.58 L588.09,187.84 L588.96,190.47 L589.83,192.95 L590.70,194.74 L591.57,196.04 L592.44,196.39 L593.31,196.24 L594.18,196.22 L595.05,196.84 L595.92,198.27 L596.79,200.26 L597.66,202.27 L598.53,203.75 L599.40,204.36 L600.27,204.16 L601.14,203.59 L602.01,203.25 L602.88,203.74 L603.75,205.12 L604.62,207.12 L605.49,209.21 L606.36,210.82 L607.23,211.58 L608.10,211.54 L608.97,211.13 L609.84,210.92 L610.71,211.43 L611.58,212.87 L612.45,214.95 L613.32,217.08 L614.19,218.73 L615.06,219.56 L615.93,219.52 L616.80,219.01 L617.67,218.63 L618.54,218.89 L619.41,219.97 L620.28,221.61 L621.15,223.31 L622.02,224.53 L622.89,224.84 L623.76,224.32 L624.63,223.62 L625.50,223.26 L626.37,223.55 L627.24,224.39 L628.11,225.47 L628.98,226.41 L629.85,227.02 L630.72,227.31 L631.59,227.48 L632.46,227.68 L633.33,228.01 L634.20,228.32 L635.07,228.63 L635.94,228.93 L636.81,229.23 L637.68,229.52 L638.55,229.82 L639.42,230.11 L640.29,230.40 L641.74,230.86 L643.19,231.29 L644.64,231.69 L646.09,232.07 L647.54,232.41 L648.99,232.73 L650.44,233.03 L651.89,233.29 L653.34,233.53 L654.79,233.74 L656.24,233.94 L657.69,234.12 L659.14,234.29 L660.59,234.45 L662.04,234.60 L663.49,234.74 L664.94,234.88 L666.39,235.01 L667.84,235.13 L669.29,235.25 L670.74,235.37 L672.19,235.49 L673.64,235.60 L675.09,235.71 L676.54,235.83 L677.99,235.94 L679.44,236.06 L680.89,236.19 L682.34,236.31" stroke="#e6b6e6" stroke-width="0.8" fill="none" stroke-linejoin="round" opacity="1"/>
<path d="M567.50,209.54 L568.08,202.70 L568.66,196.73 L569.24,188.65 L569.82,179.85 L570.40,174.23 L570.98,167.81 L571.56,166.89 L572.14,168.47 L572.72,165.80 L573.30,151.29 L573.88,156.18 L574.46,167.33 L575.04,165.26 L575.62,159.16 L576.20,155.29 L576.78,166.35 L577.36,166.85 L577.94,167.42 L578.52,168.37 L579.10,166.38 L579.68,167.66 L580.26,168.17 L580.84,167.30 L581.42,169.11 L582.00,171.60 L582.87,175.36 L583.74,177.90 L584.61,179.89 L585.48,181.96 L586.35,184.60 L587.22,187.89 L588.09,191.43 L588.96,194.52 L589.83,196.60 L590.70,197.47 L591.57,197.67 L592.44,197.64 L593.31,198.07 L594.18,199.32 L595.05,201.28 L595.92,203.38 L596.79,204.95 L597.66,205.57 L598.53,205.24 L599.40,204.49 L600.27,204.01 L601.14,204.39 L602.01,205.77 L602.88,207.83 L603.75,209.81 L604.62,211.09 L605.49,211.41 L606.36,211.00 L607.23,210.47 L608.10,210.51 L608.97,211.51 L609.84,213.35 L610.71,215.50 L611.58,217.28 L612.45,218.13 L613.32,217.97 L614.19,217.24 L615.06,216.66 L615.93,216.77 L616.80,217.76 L617.67,219.43 L618.54,221.02 L619.41,221.89 L620.28,221.69 L621.15,220.66 L622.02,219.43 L622.89,218.75 L623.76,219.11 L624.63,220.20 L625.50,221.43 L626.37,222.26 L627.24,222.46 L628.11,222.19 L628.98,221.84 L629.85,221.74 L630.72,221.97 L631.59,222.35 L632.46,222.57 L633.33,222.64 L634.20,222.69 L635.07,222.73 L635.94,222.76 L636.81,222.78 L637.68,222.80 L638.55,222.81 L639.42,222.82 L640.29,222.82 L641.74,222.69 L643.19,222.43 L644.64,222.06 L646.09,221.63 L647.54,221.19 L648.99,220.77 L650.44,220.42 L651.89,220.18 L653.34,220.10 L654.79,220.24 L656.24,220.64 L657.69,221.23 L659.14,221.91 L660.59,222.58 L662.04,223.16 L663.49,223.57 L664.94,223.88 L666.39,224.17 L667.84,224.44 L669.29,224.70 L670.74,224.94 L672.19,225.17 L673.64,225.40 L675.09,225.61 L676.54,225.83 L677.99,226.04 L679.44,226.26 L680.89,226.48 L682.34,226.71" stroke="#a6d68e" stroke-width="0.8" fill="none" stroke-linejoin="round" opacity="1"/>
<path d="M567.50,210.43 L568.08,202.62 L568.66,196.16 L569.24,187.33 L569.82,182.23 L570.40,173.28 L570.98,165.93 L571.56,168.07 L572.14,168.07 L572.72,168.77 L573.30,167.84 L573.88,167.86 L574.46,166.87 L575.04,165.24 L575.62,167.49 L576.20,163.75 L576.78,156.72 L577.36,157.10 L577.94,154.12 L578.52,160.93 L579.10,166.26 L579.68,169.02 L580.26,167.57 L580.84,167.79 L581.42,168.10 L582.00,168.66 L582.87,171.44 L583.74,174.39 L584.61,178.06 L585.48,182.41 L586.35,187.02 L587.22,191.32 L588.09,194.76 L588.96,197.04 L589.83,198.36 L590.70,199.20 L591.57,199.95 L592.44,201.28 L593.31,203.25 L594.18,205.55 L595.05,207.61 L595.92,208.91 L596.79,209.21 L597.66,208.68 L598.53,207.83 L599.40,207.29 L600.27,207.53 L601.14,208.65 L602.01,210.33 L602.88,212.16 L603.75,213.45 L604.62,213.90 L605.49,213.63 L606.36,213.12 L607.23,212.94 L608.10,213.56 L608.97,215.04 L609.84,217.08 L610.71,219.09 L611.58,220.53 L612.45,221.06 L613.32,220.75 L614.19,220.02 L615.06,219.47 L615.93,219.60 L616.80,220.52 L617.67,221.99 L618.54,223.44 L619.41,224.30 L620.28,224.27 L621.15,223.48 L622.02,222.42 L622.89,221.72 L623.76,221.95 L624.63,222.97 L625.50,224.36 L626.37,225.60 L627.24,226.36 L628.11,226.59 L628.98,226.55 L629.85,226.53 L630.72,226.74 L631.59,227.18 L632.46,227.68 L633.33,228.00 L634.20,228.26 L635.07,228.49 L635.94,228.70 L636.81,228.89 L637.68,229.07 L638.55,229.23 L639.42,229.39 L640.29,229.52 L641.74,229.73 L643.19,229.91 L644.64,230.06 L646.09,230.21 L647.54,230.34 L648.99,230.46 L650.44,230.59 L651.89,230.72 L653.34,230.86 L654.79,231.01 L656.24,231.17 L657.69,231.32 L659.14,231.47 L660.59,231.61 L662.04,231.76 L663.49,231.89 L664.94,232.03 L666.39,232.16 L667.84,232.30 L669.29,232.43 L670.74,232.56 L672.19,232.68 L673.64,232.81 L675.09,232.94 L676.54,233.07 L677.99,233.20 L679.44,233.33 L680.89,233.46 L682.34,233.59" stroke="#f6b68e" stroke-width="0.8" fill="none" stroke-linejoin="round" opacity="1"/>
<path d="M567.50,209.57 L568.08,203.04 L568.66,196.11 L569.24,188.82 L569.82,182.91 L570.40,175.04 L570.98,168.16 L571.56,166.37 L572.14,167.43 L572.72,168.55 L573.30,168.69 L573.88,167.55 L574.46,165.30 L575.04,164.24 L575.62,161.24 L576.20,165.07 L576.78,168.24 L577.36,166.14 L577.94,166.09 L578.52,166.52 L579.10,169.10 L579.68,166.61 L580.26,166.64 L580.84,158.36 L581.42,163.78 L582.00,171.42 L582.87,173.91 L583.74,175.81 L584.61,177.74 L585.48,180.06 L586.35,182.94 L587.22,186.33 L588.09,189.91 L588.96,193.24 L589.83,195.92 L590.70,197.78 L591.57,198.77 L592.44,199.35 L593.31,199.97 L594.18,201.03 L595.05,202.70 L595.92,204.92 L596.79,207.34 L597.66,209.52 L598.53,211.05 L599.40,211.76 L600.27,211.73 L601.14,211.29 L602.01,210.91 L602.88,211.09 L603.75,211.91 L604.62,213.29 L605.49,214.91 L606.36,216.33 L607.23,217.18 L608.10,217.29 L608.97,216.76 L609.84,215.94 L610.71,215.30 L611.58,215.29 L612.45,216.03 L613.32,217.42 L614.19,219.10 L615.06,220.61 L615.93,221.59 L616.80,221.85 L617.67,221.47 L618.54,220.81 L619.41,220.31 L620.28,220.38 L621.15,221.17 L622.02,222.54 L622.89,224.14 L623.76,225.39 L624.63,225.97 L625.50,225.92 L626.37,225.48 L627.24,225.02 L628.11,224.81 L628.98,224.96 L629.85,225.37 L630.72,225.85 L631.59,226.22 L632.46,226.43 L633.33,226.61 L634.20,226.83 L635.07,227.04 L635.94,227.26 L636.81,227.47 L637.68,227.68 L638.55,227.90 L639.42,228.11 L640.29,228.33 L641.74,228.69 L643.19,229.02 L644.64,229.34 L646.09,229.63 L647.54,229.91 L648.99,230.17 L650.44,230.40 L651.89,230.63 L653.34,230.83 L654.79,231.02 L656.24,231.19 L657.69,231.36 L659.14,231.52 L660.59,231.67 L662.04,231.82 L663.49,231.96 L664.94,232.09 L666.39,232.22 L667.84,232.35 L669.29,232.48 L670.74,232.60 L672.19,232.72 L673.64,232.84 L675.09,232.97 L676.54,233.09 L677.99,233.21 L679.44,233.33 L680.89,233.46 L682.34,233.59" stroke="#ef8fbf" stroke-width="0.8" fill="none" stroke-linejoin="round" opacity="1"/>
<path d="M567.50,210.44 L568.08,202.42 L568.66,195.48 L569.24,188.57 L569.82,175.43 L570.40,171.01 L570.98,167.70 L571.56,165.64 L572.14,168.63 L572.72,168.80 L573.30,165.60 L573.88,164.74 L574.46,154.91 L575.04,159.62 L575.62,167.25 L576.20,165.17 L576.78,167.93 L577.36,168.14 L577.94,167.11 L578.52,167.47 L579.10,166.31 L579.68,166.93 L580.26,168.80 L580.84,169.54 L581.42,167.62 L582.00,168.48 L582.87,172.95 L583.74,178.62 L584.61,183.13 L585.48,185.03 L586.35,185.64 L587.22,187.46 L588.09,191.11 L588.96,194.57 L589.83,195.70 L590.70,194.82 L591.57,194.65 L592.44,196.57 L593.31,199.54 L594.18,201.08 L595.05,200.33 L595.92,199.12 L596.79,199.83 L597.66,202.52 L598.53,204.90 L599.40,205.12 L600.27,203.98 L601.14,204.00 L602.01,206.34 L602.88,209.44 L603.75,210.79 L604.62,210.01 L605.49,209.25 L606.36,210.55 L607.23,213.41 L608.10,215.35 L608.97,214.91 L609.84,213.39 L610.71,213.28 L611.58,215.33 L612.45,217.54 L613.32,217.67 L614.19,215.93 L615.06,214.76 L615.93,215.83 L616.80,218.13 L617.67,219.29 L618.54,218.21 L619.41,216.65 L620.28,217.03 L621.15,219.43 L622.02,221.56 L622.89,221.46 L623.76,220.03 L624.63,219.74 L625.50,221.22 L626.37,222.95 L627.24,223.38 L628.11,222.72 L628.98,222.31 L629.85,222.77 L630.72,223.50 L631.59,223.79 L632.46,223.87 L633.33,224.14 L634.20,224.39 L635.07,224.53 L635.94,224.48 L636.81,224.18 L637.68,223.67 L638.55,223.06 L639.42,222.35 L640.29,221.58 L641.74,220.18 L643.19,218.74 L644.64,217.33 L646.09,216.06 L647.54,215.00 L648.99,214.25 L650.44,213.93 L651.89,214.35 L653.34,215.34 L654.79,216.62 L656.24,217.91 L657.69,218.96 L659.14,219.48 L660.59,219.63 L662.04,219.60 L663.49,219.42 L664.94,219.13 L666.39,218.77 L667.84,218.38 L669.29,217.97 L670.74,217.22 L672.19,216.27 L673.64,215.50 L675.09,215.21 L676.54,215.10 L677.99,215.09 L679.44,215.15 L680.89,215.24 L682.34,215.32" stroke="#7c74c4" stroke-width="0.8" fill="none" stroke-linejoin="round" opacity="1"/>
<path d="M567.50,209.31 L568.08,203.78 L568.66,195.32 L569.24,187.60 L569.82,165.75 L570.40,153.66 L570.98,162.03 L571.56,166.80 L572.14,166.48 L572.72,166.55 L573.30,166.94 L573.88,165.96 L574.46,166.55 L575.04,166.65 L575.62,168.02 L576.20,166.53 L576.78,168.12 L577.36,166.88 L577.94,167.65 L578.52,166.73 L579.10,167.53 L579.68,168.47 L580.26,168.03 L580.84,168.88 L581.42,165.65 L582.00,167.68 L582.87,165.84 L583.74,164.22 L584.61,166.01 L585.48,171.79 L586.35,178.96 L587.22,184.86 L588.09,188.75 L588.96,191.04 L589.83,192.25 L590.70,192.87 L591.57,193.48 L592.44,194.43 L593.31,196.01 L594.18,198.23 L595.05,200.84 L595.92,203.39 L596.79,205.44 L597.66,206.71 L598.53,207.20 L599.40,207.19 L600.27,207.12 L601.14,207.43 L602.01,208.38 L602.88,209.95 L603.75,211.80 L604.62,213.52 L605.49,214.67 L606.36,215.03 L607.23,214.64 L608.10,213.81 L608.97,213.01 L609.84,212.66 L610.71,213.00 L611.58,214.03 L612.45,215.40 L613.32,216.61 L614.19,217.26 L615.06,217.09 L615.93,216.16 L616.80,214.83 L617.67,213.88 L618.54,213.53 L619.41,214.03 L620.28,215.38 L621.15,217.39 L622.02,219.45 L622.89,220.94 L623.76,221.46 L624.63,221.21 L625.50,220.42 L626.37,219.18 L627.24,217.76 L628.11,216.34 L628.98,214.55 L629.85,211.69 L630.72,208.50 L631.59,205.98 L632.46,205.24 L633.33,206.47 L634.20,208.81 L635.07,211.54 L635.94,213.95 L636.81,215.34 L637.68,215.87 L638.55,216.17 L639.42,216.30 L640.29,216.28 L641.74,216.03 L643.19,215.67 L644.64,215.39 L646.09,215.36 L647.54,215.46 L648.99,215.73 L650.44,216.27 L651.89,217.01 L653.34,217.85 L654.79,218.71 L656.24,219.53 L657.69,220.23 L659.14,220.91 L660.59,221.60 L662.04,222.27 L663.49,222.89 L664.94,223.43 L666.39,223.87 L667.84,224.18 L669.29,224.06 L670.74,223.51 L672.19,222.93 L673.64,222.71 L675.09,223.14 L676.54,223.89 L677.99,224.83 L679.44,225.91 L680.89,227.03 L682.34,228.13" stroke="#5b78c6" stroke-width="0.8" fill="none" stroke-linejoin="round" opacity="1"/>
<path d="M567.50,209.46 L568.08,202.97 L568.66,196.35 L569.24,187.33 L569.82,182.59 L570.40,173.10 L570.98,166.10 L571.56,167.16 L572.14,167.19 L572.72,163.49 L573.30,156.95 L573.88,163.05 L574.46,166.17 L575.04,166.46 L575.62,167.99 L576.20,161.28 L576.78,160.68 L577.36,165.91 L577.94,166.84 L578.52,167.81 L579.10,168.11 L579.68,169.26 L580.26,169.87 L580.84,166.94 L581.42,169.11 L582.00,168.68 L582.87,171.29 L583.74,174.73 L584.61,178.19 L585.48,180.65 L586.35,181.72 L587.22,181.99 L588.09,182.55 L588.96,184.22 L589.83,187.03 L590.70,190.20 L591.57,193.16 L592.44,194.73 L593.31,195.19 L594.18,195.51 L595.05,196.68 L595.92,199.04 L596.79,202.03 L597.66,204.58 L598.53,205.84 L599.40,205.77 L600.27,205.16 L601.14,205.10 L602.01,206.22 L602.88,208.19 L603.75,210.05 L604.62,210.89 L605.49,210.38 L606.36,209.07 L607.23,208.05 L608.10,208.20 L608.97,209.59 L609.84,211.46 L610.71,212.74 L611.58,212.84 L612.45,211.97 L613.32,211.05 L614.19,211.14 L615.06,212.65 L615.93,214.95 L616.80,216.97 L617.67,217.96 L618.54,217.69 L619.41,216.92 L620.28,216.73 L621.15,217.72 L622.02,219.65 L622.89,221.55 L623.76,222.28 L624.63,221.79 L625.50,220.76 L626.37,220.10 L627.24,220.21 L628.11,220.86 L628.98,221.46 L629.85,221.61 L630.72,221.32 L631.59,220.95 L632.46,220.78 L633.33,220.65 L634.20,220.30 L635.07,219.80 L635.94,219.23 L636.81,218.64 L637.68,218.09 L638.55,217.65 L639.42,217.37 L640.29,217.33 L641.74,217.79 L643.19,218.66 L644.64,219.80 L646.09,221.10 L647.54,222.41 L648.99,223.61 L650.44,224.57 L651.89,225.16 L653.34,225.36 L654.79,225.28 L656.24,225.05 L657.69,224.81 L659.14,224.52 L660.59,224.15 L662.04,223.74 L663.49,223.31 L664.94,222.90 L666.39,222.54 L667.84,222.27 L669.29,222.12 L670.74,222.05 L672.19,222.05 L673.64,222.09 L675.09,222.17 L676.54,222.28 L677.99,222.40 L679.44,222.53 L680.89,222.65 L682.34,222.75" stroke="#ece33c" stroke-width="0.8" fill="none" stroke-linejoin="round" opacity="1"/>
<path d="M567.50,209.41 L568.08,203.71 L568.66,196.62 L569.24,189.16 L569.82,180.39 L570.40,169.79 L570.98,156.89 L571.56,163.28 L572.14,168.17 L572.72,167.36 L573.30,168.23 L573.88,166.06 L574.46,168.58 L575.04,165.02 L575.62,154.15 L576.20,155.28 L576.78,168.01 L577.36,165.71 L577.94,168.02 L578.52,167.78 L579.10,166.36 L579.68,167.75 L580.26,168.91 L580.84,169.45 L581.42,167.36 L582.00,171.09 L582.87,172.24 L583.74,175.86 L584.61,180.52 L585.48,183.08 L586.35,183.33 L587.22,184.31 L588.09,187.97 L588.96,192.38 L589.83,194.53 L590.70,194.50 L591.57,195.37 L592.44,198.82 L593.31,202.71 L594.18,204.08 L595.05,203.33 L595.92,203.61 L596.79,206.35 L597.66,209.26 L598.53,209.53 L599.40,207.89 L600.27,207.55 L601.14,209.72 L602.01,211.92 L602.88,211.68 L603.75,209.87 L604.62,209.70 L605.49,212.09 L606.36,214.40 L607.23,214.16 L608.10,212.63 L608.97,212.98 L609.84,215.84 L610.71,218.36 L611.58,218.30 L612.45,217.10 L613.32,217.85 L614.19,220.87 L615.06,223.19 L615.93,222.75 L616.80,221.28 L617.67,221.79 L618.54,224.39 L619.41,226.04 L620.28,224.89 L621.15,222.98 L622.02,223.36 L622.89,225.75 L623.76,226.90 L624.63,225.74 L625.50,224.54 L626.37,225.23 L627.24,226.90 L628.11,227.59 L628.98,227.14 L629.85,226.91 L630.72,227.50 L631.59,228.15 L632.46,228.33 L633.33,228.53 L634.20,228.78 L635.07,229.02 L635.94,229.25 L636.81,229.48 L637.68,229.71 L638.55,229.93 L639.42,230.15 L640.29,230.37 L641.74,230.70 L643.19,230.99 L644.64,231.23 L646.09,231.44 L647.54,231.62 L648.99,231.78 L650.44,231.93 L651.89,232.07 L653.34,232.22 L654.79,232.37 L656.24,232.53 L657.69,232.68 L659.14,232.83 L660.59,232.97 L662.04,233.11 L663.49,233.25 L664.94,233.39 L666.39,233.52 L667.84,233.65 L669.29,233.78 L670.74,233.91 L672.19,234.04 L673.64,234.17 L675.09,234.30 L676.54,234.43 L677.99,234.56 L679.44,234.69 L680.89,234.82 L682.34,234.95" stroke="#e4468a" stroke-width="0.8" fill="none" stroke-linejoin="round" opacity="1"/>
<path d="M567.50,211.94 L568.08,203.51 L568.66,195.08 L569.24,186.64 L569.82,178.21 L570.40,169.78 L570.98,169.78 L571.56,169.78 L572.14,169.78 L572.72,169.78 L573.30,169.78 L573.88,169.78 L574.46,169.78 L575.04,169.78 L575.62,169.78 L576.20,169.78 L576.78,169.78 L577.36,169.78 L577.94,169.78 L578.52,169.78 L579.10,169.78 L579.68,169.78 L580.26,169.78 L580.84,171.46 L581.42,174.59 L582.00,177.46 L582.58,180.10 L583.16,182.36 L583.74,184.28 L584.32,186.08 L584.90,187.77 L585.48,189.35 L586.06,190.83 L586.64,192.28 L587.22,193.70 L587.80,195.04 L588.38,196.30 L588.96,197.49 L589.54,198.63 L590.12,199.70 L590.70,200.72 L591.28,201.70 L591.86,202.64 L592.44,203.53 L593.02,204.38 L593.60,205.19 L594.18,205.97 L594.76,206.71 L595.34,207.42 L595.92,208.10 L596.50,208.76 L597.08,209.39 L597.66,209.99 L598.24,210.58 L598.82,211.14 L599.40,211.68 L599.98,212.17 L600.56,212.62 L601.14,213.05 L601.72,213.47 L602.30,213.88 L602.88,214.28 L603.46,214.66 L604.04,215.03 L604.62,215.39 L605.20,215.74 L605.78,216.08 L606.36,216.41 L606.94,216.73 L607.52,217.04 L608.10,217.34 L608.68,217.64 L609.26,217.92 L609.84,218.20 L610.42,218.47 L611.00,218.74 L611.58,219.05 L612.16,219.34 L612.74,219.63 L613.32,219.91 L613.90,220.19 L614.48,220.46 L615.06,220.72 L615.64,220.97 L616.22,221.22 L616.80,221.46 L617.38,221.70 L617.96,221.93 L618.54,222.16 L619.12,222.38 L619.70,222.59 L620.28,222.80 L620.86,223.01 L621.44,223.21 L622.02,223.40 L622.60,223.63 L623.18,223.89 L623.76,224.14 L624.34,224.38 L624.92,224.62 L625.50,224.85 L626.08,225.08 L626.66,225.30 L627.24,225.51 L627.82,225.72 L628.40,225.93 L628.98,226.13 L629.56,226.33 L630.14,226.52 L630.72,226.70 L631.30,226.89 L631.88,227.07 L632.46,227.24 L633.04,227.41 L633.62,227.58 L634.20,227.78 L634.78,227.98 L635.36,228.17 L635.94,228.36 L636.52,228.54 L637.10,228.72 L637.68,228.90 L638.26,229.07 L638.84,229.24 L639.42,229.40 L640.00,229.56 L640.58,229.72 L641.16,229.87 L641.74,230.02 L642.32,230.17 L642.90,230.31 L643.48,230.45 L644.06,230.59 L644.64,230.72 L645.22,230.85 L645.80,230.98 L646.38,231.10 L646.96,231.21 L647.54,231.32 L648.12,231.43 L648.70,231.54 L649.28,231.65 L649.86,231.75 L650.44,231.86 L651.02,231.96 L651.60,232.05 L652.18,232.15 L652.76,232.25 L653.34,232.34 L653.92,232.43 L654.50,232.52 L655.08,232.61 L655.66,232.70 L656.24,232.78 L656.82,232.87 L657.40,232.95 L657.98,233.03 L658.56,233.11 L659.14,233.19 L659.72,233.26 L660.30,233.34 L660.88,233.41 L661.46,233.49 L662.04,233.56 L662.62,233.63 L663.20,233.70 L663.78,233.76 L664.36,233.82 L664.94,233.88 L665.52,233.94 L666.10,234.00 L666.68,234.05 L667.26,234.11 L667.84,234.16 L668.42,234.22 L669.00,234.27 L669.58,234.33 L670.16,234.38 L670.74,234.43 L671.32,234.48 L671.90,234.53 L672.48,234.58 L673.06,234.63 L673.64,234.68 L674.22,234.72 L674.80,234.77 L675.38,234.82 L675.96,234.86 L676.54,234.91 L677.12,234.95 L677.70,234.99 L678.28,235.04 L678.86,235.08 L679.44,235.12 L680.02,235.16 L680.60,235.20 L681.18,235.24 L681.76,235.28 L682.34,235.32 L682.92,235.36" stroke="#ef4b4b" stroke-width="1.0" fill="none" stroke-linejoin="round" opacity="1"/>
<path d="M567.50,209.90 L568.08,202.87 L568.66,195.85 L569.24,188.82 L569.82,181.79 L570.40,174.77 L570.98,168.00 L571.56,168.48 L572.14,168.46 L572.72,168.20 L573.30,166.73 L573.88,168.04 L574.46,167.60 L575.04,166.71 L575.62,167.03 L576.20,165.87 L576.78,167.32 L577.36,167.73 L577.94,167.43 L578.52,168.74 L579.10,167.10 L579.68,168.76 L580.26,168.95 L580.84,168.38 L581.42,170.05 L582.00,171.67 L582.58,174.05 L583.16,176.26 L583.74,178.32 L584.32,180.31 L584.90,182.23 L585.48,184.02 L586.06,185.71 L586.64,187.30 L587.22,188.79 L587.80,190.20 L588.38,191.54 L588.96,192.78 L589.54,193.96 L590.12,195.07 L590.70,196.14 L591.28,197.15 L591.86,198.12 L592.44,199.04 L593.02,199.93 L593.60,200.77 L594.18,201.58 L594.76,202.36 L595.34,203.10 L595.92,203.81 L596.50,204.50 L597.08,205.16 L597.66,205.79 L598.24,206.41 L598.82,207.00 L599.40,207.57 L599.98,208.12 L600.56,208.65 L601.14,209.16 L601.72,209.66 L602.30,210.16 L602.88,210.67 L603.46,211.16 L604.04,211.64 L604.62,212.10 L605.20,212.55 L605.78,212.98 L606.36,213.40 L606.94,213.81 L607.52,214.21 L608.10,214.59 L608.68,214.97 L609.26,215.33 L609.84,215.68 L610.42,216.03 L611.00,216.36 L611.58,216.82 L612.16,217.27 L612.74,217.70 L613.32,218.12 L613.90,218.53 L614.48,218.92 L615.06,219.30 L615.64,219.67 L616.22,220.03 L616.80,220.38 L617.38,220.72 L617.96,221.05 L618.54,221.38 L619.12,221.69 L619.70,221.99 L620.28,222.23 L620.86,222.42 L621.44,222.60 L622.02,222.78 L622.60,222.96 L623.18,223.13 L623.76,223.30 L624.34,223.47 L624.92,223.63 L625.50,223.79 L626.08,223.94 L626.66,224.09 L627.24,224.24 L627.82,224.39 L628.40,224.54 L628.98,224.68 L629.56,224.82 L630.14,224.95 L630.72,225.09 L631.30,225.22 L631.88,225.35 L632.46,225.48 L633.04,225.57 L633.62,225.62 L634.20,225.67 L634.78,225.73 L635.36,225.78 L635.94,225.83 L636.52,225.88 L637.10,225.93 L637.68,225.98 L638.26,226.03 L638.84,226.08 L639.42,226.12 L640.00,226.17 L640.58,226.22 L641.16,226.26 L641.74,226.31 L642.32,226.35 L642.90,226.40 L643.48,226.44 L644.06,226.49 L644.64,226.53 L645.22,226.57 L645.80,226.62 L646.38,226.66 L646.96,226.70 L647.54,226.74 L648.12,226.78 L648.70,226.82 L649.28,226.86 L649.86,226.90 L650.44,226.99 L651.02,227.08 L651.60,227.17 L652.18,227.25 L652.76,227.34 L653.34,227.42 L653.92,227.51 L654.50,227.59 L655.08,227.67 L655.66,227.75 L656.24,227.83 L656.82,227.91 L657.40,227.99 L657.98,228.06 L658.56,228.14 L659.14,228.21 L659.72,228.28 L660.30,228.36 L660.88,228.43 L661.46,228.50 L662.04,228.57 L662.62,228.64 L663.20,228.71 L663.78,228.77 L664.36,228.84 L664.94,228.91 L665.52,228.98 L666.10,229.06 L666.68,229.13 L667.26,229.21 L667.84,229.28 L668.42,229.35 L669.00,229.43 L669.58,229.50 L670.16,229.57 L670.74,229.64 L671.32,229.71 L671.90,229.77 L672.48,229.84 L673.06,229.91 L673.64,229.97 L674.22,230.04 L674.80,230.10 L675.38,230.16 L675.96,230.23 L676.54,230.29 L677.12,230.35 L677.70,230.41 L678.28,230.47 L678.86,230.53 L679.44,230.59 L680.02,230.65 L680.60,230.70 L681.18,230.76 L681.76,230.82 L682.34,230.87 L682.92,230.93" stroke="#1a1a1a" stroke-width="0.95" fill="none" stroke-linejoin="round" opacity="1"/>
</g>
<rect x="567.5" y="137.2" width="115.3" height="106.6" fill="none" stroke="#555" stroke-width="1.2"/>
<path d="M582.0,243.8v-1.6M582.0,137.2v1.6M597.0,243.8v-1.6M597.0,137.2v1.6M611.5,243.8v-1.6M611.5,137.2v1.6M626.0,243.8v-1.6M626.0,137.2v1.6M640.5,243.8v-1.6M640.5,137.2v1.6M655.0,243.8v-1.6M655.0,137.2v1.6M669.5,243.8v-1.6M669.5,137.2v1.6M567.5,155.5h1.6M682.8,155.5h-1.6M567.5,172.5h1.6M682.8,172.5h-1.6M567.5,189.5h1.6M682.8,189.5h-1.6M567.5,206.5h1.6M682.8,206.5h-1.6M567.5,223.5h1.6M682.8,223.5h-1.6" stroke="#444" stroke-width="0.9" fill="none"/>
<text x="564.5" y="147.3" font-size="12.8" text-anchor="end" fill="#1e1e1e" stroke="#1e1e1e" >1.5</text>
<text x="564.5" y="180.0" font-size="12.8" text-anchor="end" fill="#1e1e1e" stroke="#1e1e1e" >1.0</text>
<text x="564.5" y="212.3" font-size="12.8" text-anchor="end" fill="#1e1e1e" stroke="#1e1e1e" >0.5</text>
<text x="564.5" y="246.2" font-size="12.8" text-anchor="end" fill="#1e1e1e" stroke="#1e1e1e" >0.0</text>
<text x="570.8" y="256.6" font-size="12.8" text-anchor="middle" fill="#1e1e1e" stroke="#1e1e1e" >0</text>
<text x="597.4" y="256.6" font-size="12.8" text-anchor="middle" fill="#1e1e1e" stroke="#1e1e1e" >1</text>
<text x="625.7" y="256.6" font-size="12.8" text-anchor="middle" fill="#1e1e1e" stroke="#1e1e1e" >2</text>
<text x="654.9" y="256.6" font-size="12.8" text-anchor="middle" fill="#1e1e1e" stroke="#1e1e1e" >3</text>
<text x="679.6" y="256.6" font-size="12.8" text-anchor="middle" fill="#1e1e1e" stroke="#1e1e1e" >4</text>
<text transform="translate(541.6,197.0) rotate(-90)" font-size="14.2" text-anchor="middle" fill="#33282a" stroke="#33282a">PS-Acc (g)</text>
<path d="M586.5,144.6H595.2" stroke="#ef4b4b" stroke-width="1.0"/>
<text x="596.4" y="148.1" font-size="10.5" text-anchor="start" fill="#1e1e1e" stroke="#1e1e1e" style="stroke-width:0.15px">RS</text>
<path d="M612.0,144.6H619.3" stroke="#c3c8ef" stroke-width="1.0"/>
<text x="620.0" y="148.1" font-size="10.5" text-anchor="start" fill="#1e1e1e" stroke="#1e1e1e" style="stroke-width:0.15px">S11</text>
<path d="M635.4,144.6H643.4" stroke="#7c74c4" stroke-width="1.0"/>
<text x="643.4" y="148.1" font-size="10.5" text-anchor="start" fill="#1e1e1e" stroke="#1e1e1e" style="stroke-width:0.15px">S12</text>
<path d="M659.5,144.6H666.0" stroke="#efefb4" stroke-width="1.0"/>
<text x="666.0" y="148.1" font-size="10.5" text-anchor="start" fill="#1e1e1e" stroke="#1e1e1e" style="stroke-width:0.15px">S13</text>
<path d="M586.5,156.2H594.5" stroke="#5b78c6" stroke-width="1.0"/>
<text x="595.2" y="159.7" font-size="10.5" text-anchor="start" fill="#1e1e1e" stroke="#1e1e1e" style="stroke-width:0.15px">S14</text>
<path d="M611.0,156.2H619.0" stroke="#ef8fbf" stroke-width="1.0"/>
<text x="620.0" y="159.7" font-size="10.5" text-anchor="start" fill="#1e1e1e" stroke="#1e1e1e" style="stroke-width:0.15px">S15</text>
<path d="M635.4,156.2H643.0" stroke="#e4468a" stroke-width="1.0"/>
<text x="643.4" y="159.7" font-size="10.5" text-anchor="start" fill="#1e1e1e" stroke="#1e1e1e" style="stroke-width:0.15px">S16</text>
<path d="M659.0,156.2H666.0" stroke="#e6b6e6" stroke-width="1.0"/>
<text x="666.0" y="159.7" font-size="10.5" text-anchor="start" fill="#1e1e1e" stroke="#1e1e1e" style="stroke-width:0.15px">S17</text>
<path d="M635.4,165.7H642.7" stroke="#ece33c" stroke-width="1.0"/>
<text x="643.4" y="169.2" font-size="10.5" text-anchor="start" fill="#1e1e1e" stroke="#1e1e1e" style="stroke-width:0.15px">S18</text>
<path d="M658.7,165.7H666.0" stroke="#a6d68e" stroke-width="1.0"/>
<text x="666.0" y="169.2" font-size="10.5" text-anchor="start" fill="#1e1e1e" stroke="#1e1e1e" style="stroke-width:0.15px">S19</text>
<path d="M658.7,174.8H665.3" stroke="#f6b68e" stroke-width="1.0"/>
<text x="666.0" y="178.3" font-size="10.5" text-anchor="start" fill="#1e1e1e" stroke="#1e1e1e" style="stroke-width:0.15px">S20</text>
<path d="M646.3,183.5H654.3" stroke="#1a1a1a" stroke-width="1.0"/>
<text x="655.8" y="187.3" font-size="11.55" text-anchor="start" fill="#1e1e1e" stroke="#1e1e1e" style="stroke-width:0.3px">mean</text>
<rect x="61.7" y="275.4" width="110.8" height="101.9" fill="none" stroke="#6a6a6a" stroke-width="1.2"/>
<path d="M62.20,326.50 L62.50,326.50 L62.80,326.50 L63.10,326.50 L63.40,326.50 L63.70,326.50 L64.00,326.50 L64.30,326.50 L64.60,326.50 L64.90,326.50 L65.20,326.50 L65.50,326.50 L65.80,326.50 L66.10,326.50 L66.40,326.50 L66.70,326.50 L67.00,326.50 L67.30,326.50 L67.60,326.50 L67.90,326.50 L68.20,326.50 L68.50,326.50 L68.80,326.50 L69.10,326.50 L69.40,326.50 L69.70,326.50 L70.00,326.50 L70.30,326.50 L70.60,326.50 L70.90,326.50 L71.20,326.50 L71.50,326.50 L71.80,326.50 L72.10,326.50 L72.40,326.50 L72.70,326.50 L73.00,326.50 L73.30,326.50 L73.60,326.50 L73.90,326.50 L74.20,326.50 L74.50,326.50 L74.80,326.50 L75.10,326.50 L75.40,326.50 L75.70,326.50 L76.00,326.50 L76.30,326.50 L76.60,326.50 L76.90,326.50 L77.20,326.50 L77.50,326.50 L77.80,326.50 L78.10,326.50 L78.40,326.50 L78.70,326.50 L79.00,326.50 L79.30,326.50 L79.60,326.50 L79.90,326.50 L80.20,326.50 L80.50,326.50 L80.80,326.50 L81.10,326.50 L81.40,326.50 L81.70,326.50 L82.00,326.50 L82.30,326.50 L82.60,326.50 L82.90,326.50 L83.20,326.50 L83.50,326.50 L83.80,326.50 L84.10,326.50 L84.40,326.50 L84.70,326.50 L85.00,326.50 L85.30,326.50 L85.60,326.50 L85.90,326.50 L86.20,326.41 L86.50,327.20 L86.80,325.77 L87.10,326.85 L87.40,325.81 L87.70,327.37 L88.00,325.54 L88.30,326.62 L88.60,325.70 L88.90,328.38 L89.20,325.95 L89.50,327.75 L89.80,325.38 L90.10,328.06 L90.40,325.33 L90.70,327.91 L91.00,324.37 L91.30,327.45 L91.60,324.33 L91.90,327.23 L92.20,323.95 L92.50,327.28 L92.80,325.76 L93.10,327.88 L93.40,325.51 L93.70,328.55 L94.00,325.52 L94.30,328.19 L94.60,324.23 L94.90,326.87 L95.20,324.63 L95.50,328.49 L95.80,325.70 L96.10,328.65 L96.40,324.99 L96.70,329.95 L97.00,325.34 L97.30,330.04 L97.60,321.00 L97.90,327.05 L98.20,321.31 L98.50,327.47 L98.80,325.91 L99.10,329.94 L99.40,316.30 L99.70,335.84 L100.00,317.58 L100.30,332.50 L100.60,321.00 L101.20,337.00 L101.20,317.79 L101.50,336.48 L101.80,319.47 L102.10,337.21 L102.40,310.89 L102.70,332.69 L103.00,320.06 L103.30,340.62 L103.70,307.70 L103.90,331.85 L104.20,320.46 L104.90,340.60 L104.80,322.31 L105.10,339.80 L105.40,319.21 L105.70,331.82 L106.10,306.50 L106.30,335.67 L106.60,305.74 L106.90,345.70 L107.20,315.12 L107.50,342.23 L107.80,316.40 L108.10,345.93 L108.60,300.40 L108.60,346.70 L109.00,299.50 L109.30,344.67 L109.60,310.57 L109.90,338.09 L110.20,307.09 L110.50,348.53 L111.00,287.00 L111.00,356.50 L111.40,308.79 L111.70,331.22 L112.00,289.17 L112.70,362.60 L112.60,318.98 L112.90,343.33 L113.40,295.50 L113.50,344.45 L113.80,319.89 L114.20,368.20 L114.40,312.60 L114.70,344.33 L115.00,304.35 L115.30,338.95 L115.90,288.20 L115.90,358.34 L116.20,315.28 L116.60,358.90 L116.80,311.25 L117.10,339.66 L117.40,296.50 L117.70,340.34 L118.30,300.40 L118.30,333.45 L118.60,304.93 L119.00,360.10 L119.20,316.49 L119.50,339.60 L119.80,320.01 L120.10,358.30 L120.80,299.20 L120.70,339.21 L121.00,315.21 L121.50,354.00 L121.60,296.58 L121.90,348.12 L122.20,313.47 L122.50,347.46 L123.20,293.10 L123.10,342.10 L123.40,310.14 L123.90,349.20 L124.00,294.50 L124.30,333.96 L124.60,306.50 L124.90,334.35 L125.60,296.70 L125.50,330.17 L125.80,312.50 L126.40,361.40 L126.40,324.23 L126.70,334.66 L127.00,297.37 L127.30,345.95 L127.60,291.90 L127.90,335.29 L128.20,301.68 L128.80,351.60 L128.80,299.06 L129.10,348.38 L129.40,322.04 L129.70,328.63 L130.00,300.40 L130.30,333.65 L130.60,312.55 L131.20,344.30 L131.20,311.15 L131.50,335.31 L131.80,308.23 L132.10,341.75 L132.40,314.31 L132.70,343.15 L133.00,305.30 L133.70,349.20 L133.60,301.80 L133.90,346.19 L134.20,319.65 L134.50,348.17 L134.80,309.68 L135.10,331.56 L135.40,302.80 L135.70,341.73 L136.00,302.50 L136.60,345.50 L136.60,310.86 L136.90,332.13 L137.20,324.26 L137.50,332.23 L137.80,321.92 L138.10,329.57 L138.60,299.20 L139.00,341.90 L139.00,323.91 L139.30,343.35 L139.60,311.23 L139.90,339.19 L140.20,316.50 L140.50,335.67 L140.80,312.52 L141.10,331.19 L141.50,305.30 L141.70,340.72 L142.00,312.22 L142.70,343.10 L142.60,318.00 L142.90,335.40 L143.20,315.99 L143.50,342.16 L143.90,310.10 L144.10,339.56 L144.40,312.41 L144.70,336.30 L145.00,313.46 L145.30,333.96 L145.60,320.11 L145.90,344.84 L146.40,312.60 L146.40,349.20 L146.80,318.02 L147.10,334.93 L147.40,321.68 L147.70,330.48 L148.00,321.47 L148.30,339.81 L148.80,313.80 L148.90,337.01 L149.20,312.02 L149.50,333.76 L149.80,319.22 L150.00,340.60 L150.40,317.79 L150.70,330.15 L151.00,319.96 L151.30,339.07 L151.60,321.98 L151.90,335.43 L152.50,312.60 L152.50,341.90 L152.80,313.90 L153.10,328.62 L153.40,314.20 L153.70,336.26 L154.00,316.90 L154.30,336.88 L154.60,323.44 L154.90,326.95 L155.20,322.05 L155.50,332.46 L156.10,316.20 L156.10,335.80 L156.40,317.42 L156.70,329.99 L157.00,320.19 L157.30,332.86 L157.60,320.04 L157.90,331.75 L158.20,318.83 L158.50,330.14 L158.80,324.36 L159.10,330.26 L159.80,318.70 L159.80,334.50 L160.00,317.50 L160.30,330.50 L160.60,324.57 L160.90,329.30 L161.20,325.01 L161.50,328.78 L161.80,321.32 L162.10,332.25 L162.40,322.69 L162.70,328.95 L163.40,321.10 L163.40,332.10 L163.60,324.48 L163.90,330.19 L164.20,324.00 L164.50,329.16 L164.80,325.60 L165.10,331.95 L165.40,322.42 L165.70,328.03 L166.00,324.62 L166.30,330.90 L166.60,322.55 L167.10,329.70 L167.10,323.60 L167.50,327.31 L167.80,323.49 L168.10,329.45 L168.40,325.14 L168.70,328.45 L169.00,325.69 L169.30,326.56 L169.60,326.05 L169.90,327.44 L170.20,325.24 L170.50,328.82 L170.80,325.92 L171.10,327.60 L171.40,325.60 L171.70,327.12 L172.00,326.35" stroke="#000" stroke-width="0.7" fill="none" stroke-linejoin="round" opacity="1"/>
<path d="M81.0,377.3v-1.6M81.0,275.4v1.6M98.5,377.3v-1.6M98.5,275.4v1.6M117.0,377.3v-1.6M117.0,275.4v1.6M135.3,377.3v-1.6M135.3,275.4v1.6M153.7,377.3v-1.6M153.7,275.4v1.6M61.7,292.0h1.6M172.5,292.0h-1.6M61.7,303.0h1.6M172.5,303.0h-1.6M61.7,315.0h1.6M172.5,315.0h-1.6M61.7,338.0h1.6M172.5,338.0h-1.6M61.7,350.0h1.6M172.5,350.0h-1.6M61.7,362.0h1.6M172.5,362.0h-1.6" stroke="#444" stroke-width="0.9" fill="none"/>
<text x="60.4" y="284.7" font-size="12.8" text-anchor="end" fill="#1e1e1e" stroke="#1e1e1e" >0.50</text>
<text x="60.2" y="306.3" font-size="12.8" text-anchor="end" fill="#1e1e1e" stroke="#1e1e1e" >0.25</text>
<text x="57.7" y="331.8" font-size="12.8" text-anchor="end" fill="#1e1e1e" stroke="#1e1e1e" >0</text>
<text x="59.3" y="355.8" font-size="12.8" text-anchor="end" fill="#1e1e1e" stroke="#1e1e1e" >-0.25</text>
<text x="59.9" y="377.3" font-size="12.8" text-anchor="end" fill="#1e1e1e" stroke="#1e1e1e" >-0.50</text>
<text x="63.2" y="391.0" font-size="12.8" text-anchor="middle" fill="#1e1e1e" stroke="#1e1e1e" >0</text>
<text x="99.7" y="391.0" font-size="12.8" text-anchor="middle" fill="#1e1e1e" stroke="#1e1e1e" >30</text>
<text x="138.0" y="391.0" font-size="12.8" text-anchor="middle" fill="#1e1e1e" stroke="#1e1e1e" >60</text>
<text x="166.4" y="391.0" font-size="12.8" text-anchor="middle" fill="#1e1e1e" stroke="#1e1e1e" >90</text>
<text transform="translate(31.2,321.6) rotate(-90)" font-size="12.5" text-anchor="middle" fill="#33282a" stroke="#33282a">Acceleration (g)</text>
<path d="M134.1,284.8H148.0" stroke="#8a8a8a" stroke-width="1.1"/>
<text x="150.2" y="288.7" font-size="13" text-anchor="start" fill="#1e1e1e" stroke="#1e1e1e" >S22</text>
<text x="1.0" y="334.8" font-size="16.5" text-anchor="start" fill="#161616" stroke="#161616" >(c)</text>
<text x="95.1" y="410.7" font-size="13.5" text-anchor="start" fill="#33282a" stroke="#33282a" >Time (s)</text>
<rect x="229.7" y="274.5" width="115.8" height="106.9" fill="none" stroke="#6a6a6a" stroke-width="1.2"/>
<path d="M266.00,327.37 L266.80,328.77 L267.60,327.73 L268.40,329.71 L269.20,319.48 L270.00,330.54 L270.80,323.12 L271.60,333.72 L272.40,319.17 L273.20,336.54 L274.00,309.97 L274.80,335.37 L275.60,320.45 L276.40,340.29 L277.20,323.02 L278.00,337.45 L278.80,314.59 L279.60,348.20 L280.40,327.72 L281.20,340.02 L282.00,323.22 L282.80,342.69 L283.60,299.46 L284.40,349.44 L285.20,311.29 L286.00,356.91 L286.80,323.58 L287.60,347.20 L288.40,301.20 L289.20,336.31 L290.00,301.74 L290.80,331.95 L291.60,313.19 L292.40,335.10 L293.20,308.88 L294.00,337.31 L294.80,300.30 L295.60,355.47 L296.40,319.01 L297.20,354.39 L298.00,316.64 L298.80,362.38 L299.60,324.74 L300.40,335.35 L301.20,319.52 L302.00,335.18 L302.80,317.13 L303.60,334.22 L304.40,305.49 L305.20,342.49 L306.00,321.18 L306.80,356.70 L307.60,323.51 L308.40,335.82 L309.20,311.75 L310.00,348.57 L310.80,313.25 L311.60,346.46 L312.40,327.22 L313.20,345.02 L314.00,306.30 L314.80,353.80 L315.60,321.87 L316.40,329.65 L317.20,317.95 L318.00,341.25 L318.80,317.04 L319.60,336.26 L320.40,311.54 L321.20,338.25 L322.00,318.88 L322.80,337.30 L323.60,313.98 L324.40,344.32 L325.20,318.45 L326.00,331.32 L326.80,318.31 L327.60,335.44 L328.40,316.03 L329.20,341.71 L330.00,312.37 L330.80,331.87 L331.60,325.24 L332.40,335.12 L333.20,326.41 L334.00,332.02 L334.80,327.05 L335.60,329.33 L336.40,323.95 L337.20,328.72 L338.00,327.24 L338.80,330.54 L339.60,326.88 L340.40,330.10 L341.20,325.64 L342.00,329.70 L342.80,327.81 L343.60,329.10 L344.40,326.90" stroke="#333" stroke-width="0.6" fill="none" stroke-linejoin="round" opacity="1"/>
<path d="M230.00,328.30 L230.45,328.44 L230.91,328.10 L231.36,328.50 L231.82,328.07 L232.27,328.43 L232.73,328.17 L233.18,328.42 L233.64,328.17 L234.09,328.51 L234.55,328.18 L235.00,328.48 L235.45,328.17 L235.91,328.44 L236.36,328.14 L236.82,328.53 L237.27,328.11 L237.73,328.40 L238.18,328.16 L238.64,328.42 L239.09,328.07 L239.55,328.52 L240.00,328.08 L240.45,328.52 L240.91,328.09 L241.36,328.54 L241.82,328.08 L242.27,328.44 L242.73,328.07 L243.18,328.47 L243.64,328.09 L244.09,328.48 L244.55,328.14 L245.00,328.45 L245.45,328.14 L245.91,328.45 L246.36,328.18 L246.82,328.52 L247.27,328.08 L247.73,328.55 L248.18,328.10 L248.64,328.48 L249.09,328.09 L249.55,328.42 L250.00,328.30 L250.47,328.49 L250.94,328.11 L251.41,328.39 L251.88,328.12 L252.35,328.42 L252.82,328.09 L253.29,328.39 L253.76,328.02 L254.24,328.35 L254.71,328.06 L255.18,328.34 L255.65,328.02 L256.12,328.28 L256.59,328.01 L257.06,328.28 L257.53,328.00 L258.00,328.10 L258.50,328.03 L259.00,328.59 L259.50,328.32 L260.00,328.60 L260.50,328.19 L261.00,328.44 L261.50,327.89 L262.00,327.80 L262.50,327.59 L263.00,329.23 L263.50,327.72 L264.00,328.90 L264.50,327.77 L265.00,328.70 L265.50,327.20 L266.00,327.50 L266.50,327.08 L267.00,329.43 L267.50,328.12 L268.00,329.50 L268.50,327.98 L269.00,328.41 L269.50,326.50 L270.15,318.67 L270.80,309.60 L271.25,317.80 L271.70,323.87 L272.15,332.71 L272.60,339.10 L273.10,333.46 L273.60,325.47 L274.10,320.43 L274.60,313.50 L275.25,320.67 L275.90,326.30 L276.35,323.20 L276.80,317.85 L277.25,315.37 L277.70,310.90 L278.23,319.44 L278.75,325.70 L279.27,334.58 L279.80,341.70 L280.30,349.87 L280.80,356.22 L281.30,364.70 L281.80,348.00 L282.30,332.77 L282.80,316.00 L283.45,339.54 L284.10,362.20 L284.75,334.79 L285.40,305.80 L286.05,299.48 L286.70,291.70 L287.35,316.13 L288.00,339.10 L288.65,349.77 L289.30,359.60 L289.90,341.06 L290.50,321.20 L291.02,316.66 L291.55,310.44 L292.08,306.15 L292.60,300.60 L293.10,318.30 L293.60,334.00 L294.13,331.91 L294.67,328.29 L295.20,326.30 L295.65,315.49 L296.10,306.56 L296.55,295.10 L297.00,285.30 L297.60,299.97 L298.20,316.00 L298.85,344.88 L299.50,375.00 L300.15,351.00 L300.80,328.80 L301.45,315.60 L302.10,303.20 L302.75,320.55 L303.40,339.10 L304.00,321.75 L304.60,305.80 L305.25,315.07 L305.90,326.30 L306.55,346.09 L307.20,367.30 L307.85,340.97 L308.50,316.00 L309.00,310.72 L309.50,307.63 L310.00,302.16 L310.50,298.10 L311.05,314.05 L311.60,331.40 L312.10,338.99 L312.60,349.31 L313.10,357.00 L313.60,343.05 L314.10,327.19 L314.60,313.50 L315.13,316.86 L315.67,322.59 L316.20,326.30 L316.70,321.05 L317.20,313.69 L317.70,308.30 L318.23,306.05 L318.77,305.47 L319.30,303.20 L319.80,319.96 L320.30,335.06 L320.80,351.90 L321.25,341.88 L321.70,333.34 L322.15,322.65 L322.60,313.50 L323.20,316.91 L323.80,322.79 L324.40,326.30 L324.90,323.50 L325.40,319.04 L325.90,317.21 L326.40,313.50 L326.92,312.89 L327.45,310.17 L327.98,310.20 L328.50,308.30 L329.15,321.72 L329.80,334.00 L330.25,336.59 L330.70,337.37 L331.15,340.69 L331.60,341.70 L332.20,334.47 L332.80,326.30 L333.25,329.12 L333.70,329.62 L334.15,332.66 L334.60,334.00 L335.12,335.26 L335.65,334.83 L336.18,336.35 L336.70,336.50 L337.20,332.97 L337.70,327.53 L338.20,324.98 L338.70,319.90 L339.15,321.52 L339.60,320.72 L340.05,322.50 L340.50,322.40 L340.95,324.18 L341.40,324.12 L341.85,326.89 L342.30,327.60 L342.78,328.65 L343.27,327.11 L343.75,328.43 L344.23,327.66 L344.72,328.73 L345.20,328.30" stroke="#000" stroke-width="0.75" fill="none" stroke-linejoin="round" opacity="1"/>
<path d="M253.0,381.4v-1.6M253.0,274.5v1.6M271.0,381.4v-1.6M271.0,274.5v1.6M290.0,381.4v-1.6M290.0,274.5v1.6M309.0,381.4v-1.6M309.0,274.5v1.6M328.0,381.4v-1.6M328.0,274.5v1.6M229.7,290.0h1.6M345.5,290.0h-1.6M229.7,313.5h1.6M345.5,313.5h-1.6M229.7,340.0h1.6M345.5,340.0h-1.6M229.7,364.0h1.6M345.5,364.0h-1.6" stroke="#444" stroke-width="0.9" fill="none"/>
<text x="226.6" y="283.3" font-size="12.8" text-anchor="end" fill="#1e1e1e" stroke="#1e1e1e" >0.6</text>
<text x="226.6" y="304.0" font-size="12.8" text-anchor="end" fill="#1e1e1e" stroke="#1e1e1e" >0.3</text>
<text x="226.6" y="330.9" font-size="12.8" text-anchor="end" fill="#1e1e1e" stroke="#1e1e1e" >0</text>
<text x="226.6" y="355.3" font-size="12.8" text-anchor="end" fill="#1e1e1e" stroke="#1e1e1e" >-0.3</text>
<text x="226.6" y="376.5" font-size="12.8" text-anchor="end" fill="#1e1e1e" stroke="#1e1e1e" >-0.6</text>
<text x="234.6" y="393.6" font-size="12.8" text-anchor="middle" fill="#1e1e1e" stroke="#1e1e1e" >0</text>
<text x="270.9" y="393.6" font-size="12.8" text-anchor="middle" fill="#1e1e1e" stroke="#1e1e1e" >30</text>
<text x="309.0" y="393.6" font-size="12.8" text-anchor="middle" fill="#1e1e1e" stroke="#1e1e1e" >60</text>
<text x="337.2" y="393.6" font-size="12.8" text-anchor="middle" fill="#1e1e1e" stroke="#1e1e1e" >90</text>
<text transform="translate(197.1,330.6) rotate(-90)" font-size="13" text-anchor="middle" fill="#33282a" stroke="#33282a">Velocity (m/s)</text>
<path d="M303.5,284.1H317.9" stroke="#333" stroke-width="1.0"/>
<text x="320.0" y="288.0" font-size="13" text-anchor="start" fill="#1e1e1e" stroke="#1e1e1e" >S22</text>
<text x="269.7" y="412.3" font-size="13.5" text-anchor="start" fill="#33282a" stroke="#33282a" >Time (s)</text>
<rect x="399.6" y="275.4" width="116.0" height="106.4" fill="none" stroke="#6a6a6a" stroke-width="1.2"/>
<path d="M399.80,334.50 L404.00,335.50 L409.30,336.00 L414.00,335.80 L419.50,335.30 L423.00,334.80 L427.20,334.00 L431.10,332.70 L434.90,334.50 L437.50,336.50 L440.00,340.40 L441.30,341.70 L442.10,330.10 L443.40,336.50 L444.60,327.60 L445.90,340.40 L447.20,327.60 L448.50,325.00 L449.80,305.80 L451.10,318.60 L452.30,334.00 L453.40,344.20 L454.60,351.90 L455.90,372.40 L457.50,344.20 L458.70,323.70 L460.00,314.70 L461.30,322.40 L462.60,339.10 L463.90,351.90 L465.20,366.00 L466.40,346.80 L467.70,313.50 L468.70,295.50 L469.80,279.60 L471.10,300.60 L472.30,316.00 L473.60,310.90 L474.90,313.50 L476.20,312.20 L477.50,326.30 L478.50,354.50 L479.80,378.80 L481.10,351.90 L482.30,331.40 L483.60,367.30 L484.90,359.60 L486.20,341.70 L487.70,332.70 L489.30,313.50 L490.50,303.20 L491.80,310.90 L492.80,326.30 L494.10,336.50 L495.40,318.60 L496.70,298.10 L498.00,310.90 L499.30,313.50 L500.50,298.10 L501.80,308.30 L503.10,326.30 L504.40,331.40 L505.70,337.80 L507.00,346.80 L508.20,357.00 L509.50,349.40 L510.80,339.10 L512.10,334.50 L515.30,334.00" stroke="#111" stroke-width="0.95" fill="none" stroke-linejoin="round" opacity="1"/>
<path d="M419.0,381.8v-1.6M419.0,275.4v1.6M438.0,381.8v-1.6M438.0,275.4v1.6M457.5,381.8v-1.6M457.5,275.4v1.6M477.0,381.8v-1.6M477.0,275.4v1.6M496.5,381.8v-1.6M496.5,275.4v1.6M399.6,297.5h1.6M515.6,297.5h-1.6M399.6,322.0h1.6M515.6,322.0h-1.6M399.6,345.0h1.6M515.6,345.0h-1.6M399.6,367.0h1.6M515.6,367.0h-1.6" stroke="#444" stroke-width="0.9" fill="none"/>
<text x="398.3" y="287.5" font-size="12.8" text-anchor="end" fill="#1e1e1e" stroke="#1e1e1e" >0.30</text>
<text x="398.3" y="315.8" font-size="12.8" text-anchor="end" fill="#1e1e1e" stroke="#1e1e1e" >0.15</text>
<text x="398.3" y="337.0" font-size="12.8" text-anchor="end" fill="#1e1e1e" stroke="#1e1e1e" >0</text>
<text x="398.3" y="360.4" font-size="12.8" text-anchor="end" fill="#1e1e1e" stroke="#1e1e1e" >-0.15</text>
<text x="398.3" y="381.3" font-size="12.8" text-anchor="end" fill="#1e1e1e" stroke="#1e1e1e" >-0.30</text>
<text x="402.0" y="394.0" font-size="12.8" text-anchor="middle" fill="#1e1e1e" stroke="#1e1e1e" >0</text>
<text x="437.7" y="394.0" font-size="12.8" text-anchor="middle" fill="#1e1e1e" stroke="#1e1e1e" >30</text>
<text x="477.1" y="394.0" font-size="12.8" text-anchor="middle" fill="#1e1e1e" stroke="#1e1e1e" >60</text>
<text x="510.0" y="394.0" font-size="12.8" text-anchor="middle" fill="#1e1e1e" stroke="#1e1e1e" >90</text>
<text transform="translate(367.3,327.0) rotate(-90)" font-size="13.3" text-anchor="middle" fill="#33282a" stroke="#33282a">Displacement(m)</text>
<path d="M476.4,283.4H490.4" stroke="#333" stroke-width="1.0"/>
<text x="492.6" y="288.0" font-size="13" text-anchor="start" fill="#1e1e1e" stroke="#1e1e1e" >S22</text>
<text x="432.4" y="413.7" font-size="13.5" text-anchor="start" fill="#33282a" stroke="#33282a" >Time (s)</text>
<clipPath id="c566274"><rect x="566.5" y="274.7" width="115.5" height="106.69999999999999"/></clipPath>
<g clip-path="url(#c566274)">
<path d="M566.50,347.04 L567.08,339.74 L567.66,331.27 L568.24,321.04 L568.82,315.98 L569.40,307.22 L569.98,304.75 L570.56,306.07 L571.14,306.52 L571.72,305.80 L572.30,303.46 L572.88,305.02 L573.46,304.36 L574.04,303.67 L574.62,303.41 L575.20,304.80 L575.78,306.51 L576.36,305.20 L576.94,307.33 L577.52,302.44 L578.10,290.00 L578.68,298.70 L579.26,302.87 L579.84,291.53 L580.42,303.57 L581.00,304.92 L581.87,309.59 L582.74,313.45 L583.61,315.33 L584.48,315.94 L585.35,317.03 L586.22,319.76 L587.09,323.60 L587.96,326.78 L588.83,328.20 L589.70,328.52 L590.57,329.36 L591.44,331.78 L592.31,335.36 L593.18,338.34 L594.05,339.42 L594.92,338.98 L595.79,338.86 L596.66,340.40 L597.53,343.22 L598.40,345.61 L599.27,346.18 L600.14,345.23 L601.01,344.49 L601.88,345.35 L602.75,347.57 L603.62,349.53 L604.49,349.79 L605.36,348.56 L606.23,347.53 L607.10,348.22 L607.97,350.47 L608.84,352.65 L609.71,353.23 L610.58,352.32 L611.45,351.52 L612.32,352.39 L613.19,354.89 L614.06,357.42 L614.93,358.35 L615.80,357.66 L616.67,356.75 L617.54,357.34 L618.41,359.49 L619.28,361.62 L620.15,362.07 L621.02,360.41 L621.89,358.21 L622.76,357.29 L623.63,357.46 L624.50,357.33 L625.37,355.88 L626.24,353.49 L627.11,351.36 L627.98,350.25 L628.85,349.63 L629.72,348.74 L630.59,347.36 L631.46,345.89 L632.33,344.61 L633.20,343.40 L634.07,342.26 L634.94,341.24 L635.81,340.35 L636.68,339.63 L637.55,339.11 L638.42,338.97 L639.29,339.31 L640.74,340.61 L642.19,342.38 L643.64,344.14 L645.09,346.07 L646.54,348.26 L647.99,350.53 L649.44,352.68 L650.89,354.52 L652.34,355.86 L653.79,356.60 L655.24,356.86 L656.69,356.81 L658.14,356.62 L659.59,356.46 L661.04,356.49 L662.49,356.74 L663.94,357.05 L665.39,357.39 L666.84,357.76 L668.29,358.16 L669.74,358.58 L671.19,359.03 L672.64,359.49 L674.09,360.00 L675.54,360.53 L676.99,361.09 L678.44,361.65 L679.89,362.22 L681.34,362.79" stroke="#c3c8ef" stroke-width="0.8" fill="none" stroke-linejoin="round" opacity="1"/>
<path d="M566.50,347.33 L567.08,338.32 L567.66,330.19 L568.24,321.95 L568.82,316.14 L569.40,304.97 L569.98,306.09 L570.56,305.57 L571.14,305.40 L571.72,305.13 L572.30,303.39 L572.88,305.23 L573.46,305.31 L574.04,302.43 L574.62,305.24 L575.20,298.67 L575.78,295.52 L576.36,302.63 L576.94,306.19 L577.52,307.75 L578.10,307.23 L578.68,307.69 L579.26,307.18 L579.84,299.67 L580.42,303.62 L581.00,305.55 L581.87,306.69 L582.74,308.47 L583.61,310.93 L584.48,313.96 L585.35,317.05 L586.22,319.68 L587.09,321.54 L587.96,322.63 L588.83,323.40 L589.70,324.45 L590.57,326.26 L591.44,328.59 L592.31,331.41 L593.18,334.43 L594.05,337.19 L594.92,339.25 L595.79,340.49 L596.66,340.92 L597.53,340.85 L598.40,340.77 L599.27,341.12 L600.14,342.11 L601.01,343.67 L601.88,345.31 L602.75,346.63 L603.62,347.33 L604.49,347.28 L605.36,346.62 L606.23,345.75 L607.10,345.15 L607.97,345.22 L608.84,346.10 L609.71,347.62 L610.58,349.40 L611.45,350.93 L612.32,351.86 L613.19,352.10 L614.06,351.87 L614.93,351.47 L615.80,351.36 L616.67,351.97 L617.54,353.23 L618.41,354.90 L619.28,356.49 L620.15,357.55 L621.02,357.79 L621.89,357.16 L622.76,356.01 L623.63,354.94 L624.50,354.31 L625.37,354.21 L626.24,354.49 L627.11,354.85 L627.98,355.03 L628.85,354.91 L629.72,354.57 L630.59,354.13 L631.46,353.72 L632.33,353.44 L633.20,353.18 L634.07,352.90 L634.94,352.55 L635.81,352.16 L636.68,351.73 L637.55,351.28 L638.42,350.81 L639.29,350.36 L640.74,349.65 L642.19,349.06 L643.64,348.65 L645.09,348.48 L646.54,348.54 L647.99,348.78 L649.44,349.15 L650.89,349.64 L652.34,350.20 L653.79,350.79 L655.24,351.39 L656.69,351.95 L658.14,352.55 L659.59,353.22 L661.04,353.93 L662.49,354.65 L663.94,355.38 L665.39,356.08 L666.84,356.73 L668.29,357.31 L669.74,357.85 L671.19,358.35 L672.64,358.83 L674.09,359.30 L675.54,359.75 L676.99,360.19 L678.44,360.63 L679.89,361.07 L681.34,361.52" stroke="#efefb4" stroke-width="0.8" fill="none" stroke-linejoin="round" opacity="1"/>
<path d="M566.50,346.80 L567.08,338.93 L567.66,331.98 L568.24,322.86 L568.82,313.08 L569.40,306.42 L569.98,306.66 L570.56,305.47 L571.14,306.74 L571.72,303.83 L572.30,289.25 L572.88,293.78 L573.46,304.49 L574.04,302.52 L574.62,296.91 L575.20,293.51 L575.78,304.52 L576.36,305.12 L576.94,305.80 L577.52,306.84 L578.10,305.00 L578.68,306.37 L579.26,306.98 L579.84,306.24 L580.42,308.14 L581.00,309.22 L581.87,311.93 L582.74,313.56 L583.61,314.64 L584.48,315.97 L585.35,317.99 L586.22,320.72 L587.09,323.74 L587.96,326.39 L588.83,328.26 L589.70,329.30 L590.57,329.89 L591.44,330.21 L592.31,330.95 L593.18,332.48 L594.05,334.67 L594.92,336.99 L595.79,338.85 L596.66,339.78 L597.53,339.78 L598.40,339.32 L599.27,339.13 L600.14,339.76 L601.01,341.35 L601.88,343.39 L602.75,345.28 L603.62,346.49 L604.49,346.77 L605.36,346.35 L606.23,345.84 L607.10,345.92 L607.97,346.96 L608.84,348.85 L609.71,351.07 L610.58,352.91 L611.45,353.83 L612.32,353.80 L613.19,353.29 L614.06,352.99 L614.93,353.41 L615.80,354.74 L616.67,356.66 L617.54,358.49 L618.41,359.60 L619.28,359.64 L620.15,358.85 L621.02,357.84 L621.89,357.35 L622.76,357.87 L623.63,359.10 L624.50,360.44 L625.37,361.38 L626.24,361.69 L627.11,361.52 L627.98,361.27 L628.85,361.27 L629.72,361.59 L630.59,362.05 L631.46,362.36 L632.33,362.52 L633.20,362.67 L634.07,362.83 L634.94,362.99 L635.81,363.16 L636.68,363.34 L637.55,363.54 L638.42,363.75 L639.29,363.98 L640.74,364.39 L642.19,364.84 L643.64,365.29 L645.09,365.76 L646.54,366.21 L647.99,366.64 L649.44,367.05 L650.89,367.41 L652.34,367.72 L653.79,367.96 L655.24,368.18 L656.69,368.37 L658.14,368.55 L659.59,368.72 L661.04,368.87 L662.49,369.01 L663.94,369.15 L665.39,369.27 L666.84,369.39 L668.29,369.51 L669.74,369.61 L671.19,369.72 L672.64,369.83 L674.09,369.93 L675.54,370.04 L676.99,370.14 L678.44,370.25 L679.89,370.37 L681.34,370.50" stroke="#e6b6e6" stroke-width="0.8" fill="none" stroke-linejoin="round" opacity="1"/>
<path d="M566.50,347.06 L567.08,339.35 L567.66,330.08 L568.24,324.08 L568.82,315.88 L569.40,306.82 L569.98,307.81 L570.56,306.26 L571.14,302.53 L571.72,297.62 L572.30,299.64 L572.88,303.93 L573.46,305.43 L574.04,299.98 L574.62,290.47 L575.20,294.46 L575.78,306.30 L576.36,304.13 L576.94,304.43 L577.52,306.94 L578.10,307.98 L578.68,308.20 L579.26,308.28 L579.84,306.61 L580.42,308.56 L581.00,310.70 L581.87,312.60 L582.74,315.88 L583.61,320.46 L584.48,324.65 L585.35,326.82 L586.22,327.19 L587.09,327.68 L587.96,329.82 L588.83,333.37 L589.70,336.55 L590.57,337.41 L591.44,336.81 L592.31,336.71 L593.18,338.43 L594.05,341.28 L594.92,343.29 L595.79,343.36 L596.66,342.32 L597.53,342.15 L598.40,343.91 L599.27,346.61 L600.14,348.26 L601.01,347.94 L601.88,346.78 L602.75,346.76 L603.62,348.67 L604.49,351.28 L605.36,352.62 L606.23,352.06 L607.10,350.97 L607.97,351.30 L608.84,353.52 L609.71,356.16 L610.58,357.31 L611.45,356.64 L612.32,355.72 L613.19,356.39 L614.06,358.79 L614.93,361.28 L615.80,362.11 L616.67,361.08 L617.54,360.06 L618.41,360.74 L619.28,362.96 L620.15,364.91 L621.02,365.00 L621.89,363.53 L622.76,362.56 L623.63,363.31 L624.50,364.99 L625.37,366.02 L626.24,365.79 L627.11,365.05 L627.98,364.87 L628.85,365.47 L629.72,366.20 L630.59,366.53 L631.46,366.63 L632.33,366.90 L633.20,367.20 L634.07,367.52 L634.94,367.85 L635.81,368.21 L636.68,368.59 L637.55,369.01 L638.42,369.46 L639.29,369.94 L640.74,370.79 L642.19,371.69 L643.64,372.59 L645.09,373.48 L646.54,374.32 L647.99,375.08 L649.44,375.74 L650.89,376.26 L652.34,376.63 L653.79,376.88 L655.24,377.09 L656.69,377.26 L658.14,377.30 L659.59,377.30 L661.04,377.30 L662.49,377.30 L663.94,377.30 L665.39,377.30 L666.84,377.30 L668.29,377.30 L669.74,377.30 L671.19,377.30 L672.64,377.30 L674.09,377.30 L675.54,377.30 L676.99,377.30 L678.44,377.29 L679.89,377.28 L681.34,377.28" stroke="#a6d68e" stroke-width="0.8" fill="none" stroke-linejoin="round" opacity="1"/>
<path d="M566.50,346.83 L567.08,339.40 L567.66,332.21 L568.24,321.90 L568.82,313.09 L569.40,306.77 L569.98,305.83 L570.56,306.83 L571.14,306.57 L571.72,304.90 L572.30,297.02 L572.88,292.89 L573.46,299.43 L574.04,304.72 L574.62,305.78 L575.20,305.15 L575.78,305.76 L576.36,306.19 L576.94,306.19 L577.52,306.01 L578.10,293.66 L578.68,298.04 L579.26,308.53 L579.84,308.48 L580.42,307.18 L581.00,313.32 L581.87,315.21 L582.74,315.61 L583.61,315.07 L584.48,314.77 L585.35,315.52 L586.22,317.39 L587.09,319.69 L587.96,321.36 L588.83,321.98 L589.70,321.89 L590.57,322.28 L591.44,323.43 L592.31,325.79 L593.18,328.94 L594.05,331.85 L594.92,333.64 L595.79,334.24 L596.66,334.28 L597.53,334.77 L598.40,336.43 L599.27,339.12 L600.14,341.99 L601.01,344.01 L601.88,344.52 L602.75,343.97 L603.62,343.46 L604.49,343.93 L605.36,345.60 L606.23,347.85 L607.10,349.63 L607.97,350.18 L608.84,349.56 L609.71,348.61 L610.58,348.36 L611.45,349.35 L612.32,351.26 L613.19,353.17 L614.06,354.19 L614.93,353.92 L615.80,352.92 L616.67,352.31 L617.54,352.81 L618.41,354.40 L619.28,356.31 L620.15,357.46 L621.02,357.28 L621.89,356.04 L622.76,354.87 L623.63,354.64 L624.50,355.38 L625.37,356.42 L626.24,357.02 L627.11,356.88 L627.98,356.27 L628.85,355.71 L629.72,355.54 L630.59,355.59 L631.46,355.41 L632.33,355.02 L633.20,354.56 L634.07,354.07 L634.94,353.55 L635.81,353.01 L636.68,352.47 L637.55,351.92 L638.42,351.40 L639.29,350.89 L640.74,350.13 L642.19,349.51 L643.64,349.10 L645.09,348.94 L646.54,349.00 L647.99,349.20 L649.44,349.48 L650.89,349.75 L652.34,349.94 L653.79,349.97 L655.24,349.76 L656.69,349.11 L658.14,348.12 L659.59,347.00 L661.04,345.98 L662.49,345.29 L663.94,345.14 L665.39,345.59 L666.84,346.47 L668.29,347.62 L669.74,348.92 L671.19,350.24 L672.64,351.43 L674.09,352.37 L675.54,352.96 L676.99,353.31 L678.44,353.49 L679.89,353.59 L681.34,353.70" stroke="#f6b68e" stroke-width="0.8" fill="none" stroke-linejoin="round" opacity="1"/>
<path d="M566.50,347.70 L567.08,338.17 L567.66,331.94 L568.24,323.90 L568.82,315.75 L569.40,306.92 L569.98,305.69 L570.56,307.11 L571.14,306.67 L571.72,305.30 L572.30,303.62 L572.88,305.11 L573.46,296.50 L574.04,300.34 L574.62,303.17 L575.20,305.71 L575.78,303.70 L576.36,303.81 L576.94,304.18 L577.52,305.62 L578.10,304.93 L578.68,305.83 L579.26,303.37 L579.84,293.35 L580.42,303.81 L581.00,307.57 L581.87,308.75 L582.74,310.21 L583.61,312.69 L584.48,316.28 L585.35,320.12 L586.22,323.15 L587.09,324.84 L587.96,325.50 L588.83,326.22 L589.70,328.09 L590.57,330.96 L591.44,334.46 L592.31,337.60 L593.18,339.53 L594.05,340.16 L594.92,340.16 L595.79,340.61 L596.66,342.17 L597.53,344.68 L598.40,347.34 L599.27,349.14 L600.14,349.60 L601.01,349.05 L601.88,348.43 L602.75,348.63 L603.62,350.00 L604.49,352.02 L605.36,353.70 L606.23,354.25 L607.10,353.60 L607.97,352.48 L608.84,351.92 L609.71,352.57 L610.58,354.29 L611.45,356.23 L612.32,357.42 L613.19,357.38 L614.06,356.49 L614.93,355.69 L615.80,355.88 L616.67,357.22 L617.54,359.21 L618.41,360.84 L619.28,361.34 L620.15,360.64 L621.02,359.46 L621.89,358.85 L622.76,359.48 L623.63,360.81 L624.50,361.98 L625.37,362.34 L626.24,361.86 L627.11,361.07 L627.98,360.56 L628.85,360.54 L629.72,360.81 L630.59,361.04 L631.46,361.06 L632.33,361.09 L633.20,361.22 L634.07,361.41 L634.94,361.67 L635.81,361.98 L636.68,362.33 L637.55,362.68 L638.42,363.02 L639.29,363.33 L640.74,363.74 L642.19,363.91 L643.64,363.87 L645.09,363.68 L646.54,363.40 L647.99,363.08 L649.44,362.78 L650.89,362.56 L652.34,362.48 L653.79,362.60 L655.24,362.87 L656.69,363.24 L658.14,363.69 L659.59,364.20 L661.04,364.75 L662.49,365.31 L663.94,365.87 L665.39,366.41 L666.84,366.90 L668.29,367.33 L669.74,367.71 L671.19,368.08 L672.64,368.42 L674.09,368.75 L675.54,369.07 L676.99,369.39 L678.44,369.70 L679.89,370.01 L681.34,370.34" stroke="#ef8fbf" stroke-width="0.8" fill="none" stroke-linejoin="round" opacity="1"/>
<path d="M566.50,347.11 L567.08,339.86 L567.66,330.65 L568.24,322.36 L568.82,315.39 L569.40,307.02 L569.98,305.47 L570.56,306.09 L571.14,304.00 L571.72,303.61 L572.30,303.69 L572.88,305.84 L573.46,305.54 L574.04,304.81 L574.62,304.90 L575.20,304.09 L575.78,297.78 L576.36,286.97 L576.94,294.42 L577.52,302.19 L578.10,308.01 L578.68,306.69 L579.26,308.08 L579.84,307.73 L580.42,309.43 L581.00,310.05 L581.87,313.27 L582.74,316.47 L583.61,319.13 L584.48,320.97 L585.35,321.89 L586.22,322.16 L587.09,322.35 L587.96,323.04 L588.83,324.72 L589.70,327.47 L590.57,330.48 L591.44,333.18 L592.31,335.12 L593.18,336.18 L594.05,336.60 L594.92,336.92 L595.79,337.76 L596.66,339.41 L597.53,341.76 L598.40,344.43 L599.27,346.82 L600.14,348.45 L601.01,349.14 L601.88,349.06 L602.75,348.71 L603.62,348.69 L604.49,349.38 L605.36,350.80 L606.23,352.59 L607.10,354.19 L607.97,355.11 L608.84,355.12 L609.71,354.43 L610.58,353.51 L611.45,352.94 L612.32,353.14 L613.19,354.19 L614.06,355.75 L614.93,357.27 L615.80,358.23 L616.67,358.34 L617.54,357.72 L618.41,356.83 L619.28,356.30 L620.15,356.56 L621.02,357.67 L621.89,359.32 L622.76,360.81 L623.63,361.62 L624.50,361.65 L625.37,361.16 L626.24,360.54 L627.11,360.15 L627.98,360.08 L628.85,360.17 L629.72,360.16 L630.59,359.81 L631.46,358.88 L632.33,357.61 L633.20,356.12 L634.07,354.48 L634.94,352.78 L635.81,351.14 L636.68,349.65 L637.55,348.42 L638.42,347.55 L639.29,347.15 L640.74,347.61 L642.19,349.14 L643.64,351.33 L645.09,353.72 L646.54,355.90 L647.99,357.45 L649.44,358.70 L650.89,359.90 L652.34,361.04 L653.79,362.14 L655.24,363.18 L656.69,364.16 L658.14,365.07 L659.59,365.92 L661.04,366.69 L662.49,367.38 L663.94,368.01 L665.39,368.57 L666.84,369.08 L668.29,369.55 L669.74,369.98 L671.19,370.38 L672.64,370.76 L674.09,371.12 L675.54,371.47 L676.99,371.82 L678.44,372.18 L679.89,372.55 L681.34,372.95" stroke="#7c74c4" stroke-width="0.8" fill="none" stroke-linejoin="round" opacity="1"/>
<path d="M566.50,347.82 L567.08,339.69 L567.66,332.17 L568.24,317.79 L568.82,297.61 L569.40,296.59 L569.98,305.38 L570.56,306.41 L571.14,306.66 L571.72,305.70 L572.30,299.62 L572.88,291.42 L573.46,302.26 L574.04,305.28 L574.62,303.14 L575.20,304.98 L575.78,303.61 L576.36,303.83 L576.94,305.23 L577.52,306.95 L578.10,307.63 L578.68,307.63 L579.26,306.32 L579.84,307.41 L580.42,308.46 L581.00,313.51 L581.87,314.60 L582.74,315.12 L583.61,315.71 L584.48,317.02 L585.35,319.13 L586.22,321.71 L587.09,324.27 L587.96,326.27 L588.83,327.63 L589.70,328.62 L590.57,329.31 L591.44,330.28 L592.31,331.97 L593.18,334.48 L594.05,337.50 L594.92,340.46 L595.79,342.84 L596.66,344.28 L597.53,344.80 L598.40,344.85 L599.27,345.01 L600.14,345.74 L601.01,347.19 L601.88,349.08 L602.75,350.87 L603.62,352.03 L604.49,352.26 L605.36,351.66 L606.23,350.68 L607.10,349.94 L607.97,349.95 L608.84,350.86 L609.71,352.45 L610.58,354.18 L611.45,355.49 L612.32,356.02 L613.19,355.84 L614.06,355.32 L614.93,355.04 L615.80,355.48 L616.67,356.72 L617.54,358.55 L618.41,360.43 L619.28,361.75 L620.15,362.14 L621.02,361.65 L621.89,360.68 L622.76,359.97 L623.63,359.93 L624.50,360.56 L625.37,361.49 L626.24,362.31 L627.11,362.71 L627.98,362.68 L628.85,362.44 L629.72,362.27 L630.59,362.34 L631.46,362.59 L632.33,362.79 L633.20,362.93 L634.07,363.06 L634.94,363.20 L635.81,363.34 L636.68,363.48 L637.55,363.63 L638.42,363.79 L639.29,363.96 L640.74,364.22 L642.19,364.46 L643.64,364.67 L645.09,364.88 L646.54,365.07 L647.99,365.25 L649.44,365.42 L650.89,365.60 L652.34,365.77 L653.79,365.95 L655.24,366.12 L656.69,366.30 L658.14,366.47 L659.59,366.64 L661.04,366.81 L662.49,366.98 L663.94,367.15 L665.39,367.32 L666.84,367.48 L668.29,367.65 L669.74,367.81 L671.19,367.97 L672.64,368.14 L674.09,368.30 L675.54,368.47 L676.99,368.63 L678.44,368.79 L679.89,368.96 L681.34,369.13" stroke="#5b78c6" stroke-width="0.8" fill="none" stroke-linejoin="round" opacity="1"/>
<path d="M566.50,347.11 L567.08,338.37 L567.66,330.47 L568.24,318.33 L568.82,297.97 L569.40,302.26 L569.98,305.16 L570.56,304.72 L571.14,306.31 L571.72,306.10 L572.30,305.51 L572.88,304.50 L573.46,304.73 L574.04,305.73 L574.62,303.21 L575.20,288.92 L575.78,294.94 L576.36,306.91 L576.94,307.09 L577.52,306.93 L578.10,304.92 L578.68,305.13 L579.26,308.79 L579.84,307.62 L580.42,306.86 L581.00,307.49 L581.87,310.04 L582.74,312.55 L583.61,314.59 L584.48,315.99 L585.35,316.65 L586.22,316.81 L587.09,316.93 L587.96,317.49 L588.83,318.96 L589.70,321.51 L590.57,324.94 L591.44,328.20 L592.31,330.84 L593.18,332.64 L594.05,333.66 L594.92,334.24 L595.79,334.95 L596.66,336.15 L597.53,338.00 L598.40,340.38 L599.27,342.90 L600.14,345.10 L601.01,346.57 L601.88,346.97 L602.75,346.55 L603.62,345.86 L604.49,345.40 L605.36,345.53 L606.23,346.39 L607.10,347.76 L607.97,349.22 L608.84,350.32 L609.71,350.73 L610.58,350.41 L611.45,349.61 L612.32,348.82 L613.19,348.54 L614.06,349.13 L614.93,350.47 L615.80,352.27 L616.67,354.13 L617.54,355.48 L618.41,356.06 L619.28,355.97 L620.15,355.49 L621.02,355.08 L621.89,355.22 L622.76,356.13 L623.63,357.47 L624.50,358.81 L625.37,359.76 L626.24,360.16 L627.11,360.09 L627.98,359.83 L628.85,359.64 L629.72,359.69 L630.59,359.94 L631.46,360.23 L632.33,360.40 L633.20,360.55 L634.07,360.70 L634.94,360.84 L635.81,360.96 L636.68,361.07 L637.55,361.17 L638.42,361.26 L639.29,361.35 L640.74,361.50 L642.19,361.66 L643.64,361.84 L645.09,362.05 L646.54,362.31 L647.99,362.63 L649.44,363.02 L650.89,363.46 L652.34,363.96 L653.79,364.48 L655.24,365.01 L656.69,365.54 L658.14,366.06 L659.59,366.53 L661.04,366.96 L662.49,367.32 L663.94,367.63 L665.39,367.93 L666.84,368.20 L668.29,368.45 L669.74,368.69 L671.19,368.92 L672.64,369.14 L674.09,369.35 L675.54,369.55 L676.99,369.76 L678.44,369.97 L679.89,370.19 L681.34,370.41" stroke="#ece33c" stroke-width="0.8" fill="none" stroke-linejoin="round" opacity="1"/>
<path d="M566.50,347.38 L567.08,338.63 L567.66,331.88 L568.24,322.16 L568.82,315.15 L569.40,307.72 L569.98,306.49 L570.56,306.28 L571.14,305.68 L571.72,303.91 L572.30,303.42 L572.88,305.38 L573.46,302.48 L574.04,303.73 L574.62,302.90 L575.20,303.71 L575.78,305.02 L576.36,306.28 L576.94,304.34 L577.52,304.44 L578.10,294.46 L578.68,293.36 L579.26,297.25 L579.84,299.98 L580.42,306.52 L581.00,311.49 L581.87,315.46 L582.74,318.46 L583.61,319.50 L584.48,319.21 L585.35,319.13 L586.22,320.50 L587.09,323.17 L587.96,325.74 L588.83,327.04 L589.70,327.16 L590.57,327.19 L591.44,328.50 L592.31,331.45 L593.18,334.88 L594.05,337.21 L594.92,337.84 L595.79,337.75 L596.66,338.50 L597.53,340.87 L598.40,344.14 L599.27,346.69 L600.14,347.46 L601.01,346.89 L601.88,346.46 L602.75,347.42 L603.62,349.64 L604.49,351.69 L605.36,352.18 L606.23,351.08 L607.10,349.71 L607.97,349.61 L608.84,351.14 L609.71,353.17 L610.58,354.12 L611.45,353.42 L612.32,352.03 L613.19,351.60 L614.06,352.95 L614.93,355.35 L615.80,357.18 L616.67,357.37 L617.54,356.36 L618.41,355.69 L619.28,356.60 L620.15,358.84 L621.02,360.94 L621.89,361.44 L622.76,360.41 L623.63,359.40 L624.50,359.53 L625.37,360.69 L626.24,361.84 L627.11,362.15 L627.98,361.70 L628.85,361.22 L629.72,361.22 L630.59,361.58 L631.46,361.85 L632.33,361.95 L633.20,362.08 L634.07,362.21 L634.94,362.35 L635.81,362.51 L636.68,362.67 L637.55,362.84 L638.42,363.00 L639.29,363.16 L640.74,363.42 L642.19,363.66 L643.64,363.91 L645.09,364.14 L646.54,364.36 L647.99,364.56 L649.44,364.76 L650.89,364.94 L652.34,365.11 L653.79,365.27 L655.24,365.40 L656.69,365.49 L658.14,365.56 L659.59,365.61 L661.04,365.65 L662.49,365.68 L663.94,365.72 L665.39,365.77 L666.84,365.84 L668.29,365.93 L669.74,366.04 L671.19,366.16 L672.64,366.29 L674.09,366.43 L675.54,366.57 L676.99,366.71 L678.44,366.86 L679.89,367.00 L681.34,367.14" stroke="#e4468a" stroke-width="0.8" fill="none" stroke-linejoin="round" opacity="1"/>
<path d="M566.50,349.16 L567.08,340.72 L567.66,332.28 L568.24,323.83 L568.82,315.39 L569.40,306.95 L569.98,306.95 L570.56,306.95 L571.14,306.95 L571.72,306.95 L572.30,306.95 L572.88,306.95 L573.46,306.95 L574.04,306.95 L574.62,306.95 L575.20,306.95 L575.78,306.95 L576.36,306.95 L576.94,306.95 L577.52,306.95 L578.10,306.95 L578.68,306.95 L579.26,306.95 L579.84,308.20 L580.42,310.56 L581.00,312.75 L581.58,314.79 L582.16,316.69 L582.74,318.46 L583.32,320.13 L583.90,321.69 L584.48,323.32 L585.06,324.85 L585.64,326.29 L586.22,327.65 L586.80,328.94 L587.38,330.16 L587.96,331.31 L588.54,332.41 L589.12,333.58 L589.70,334.69 L590.28,335.74 L590.86,336.75 L591.44,337.70 L592.02,338.62 L592.60,339.49 L593.18,340.32 L593.76,341.12 L594.34,341.89 L594.92,342.62 L595.50,343.33 L596.08,344.00 L596.66,344.65 L597.24,345.28 L597.82,345.88 L598.40,346.46 L598.98,347.02 L599.56,347.56 L600.14,348.10 L600.72,348.65 L601.30,349.19 L601.88,349.70 L602.46,350.20 L603.04,350.68 L603.62,351.14 L604.20,351.59 L604.78,352.02 L605.36,352.44 L605.94,352.85 L606.52,353.24 L607.10,353.63 L607.68,354.00 L608.26,354.36 L608.84,354.71 L609.42,355.05 L610.00,355.38 L610.58,355.70 L611.16,356.10 L611.74,356.57 L612.32,357.02 L612.90,357.46 L613.48,357.88 L614.06,358.29 L614.64,358.68 L615.22,359.06 L615.80,359.43 L616.38,359.79 L616.96,360.14 L617.54,360.47 L618.12,360.80 L618.70,361.11 L619.28,361.42 L619.86,361.72 L620.44,362.01 L621.02,362.29 L621.60,362.56 L622.18,362.76 L622.76,362.96 L623.34,363.15 L623.92,363.34 L624.50,363.52 L625.08,363.70 L625.66,363.88 L626.24,364.05 L626.82,364.22 L627.40,364.38 L627.98,364.54 L628.56,364.70 L629.14,364.85 L629.72,365.01 L630.30,365.15 L630.88,365.30 L631.46,365.44 L632.04,365.58 L632.62,365.71 L633.20,365.84 L633.78,366.01 L634.36,366.20 L634.94,366.39 L635.52,366.57 L636.10,366.74 L636.68,366.92 L637.26,367.09 L637.84,367.25 L638.42,367.41 L639.00,367.57 L639.58,367.72 L640.16,367.87 L640.74,368.02 L641.32,368.16 L641.90,368.30 L642.48,368.43 L643.06,368.57 L643.64,368.70 L644.22,368.82 L644.80,368.95 L645.38,369.07 L645.96,369.19 L646.54,369.31 L647.12,369.42 L647.70,369.53 L648.28,369.64 L648.86,369.75 L649.44,369.85 L650.02,369.96 L650.60,370.06 L651.18,370.15 L651.76,370.25 L652.34,370.35 L652.92,370.44 L653.50,370.53 L654.08,370.62 L654.66,370.70 L655.24,370.79 L655.82,370.87 L656.40,370.96 L656.98,371.04 L657.56,371.12 L658.14,371.19 L658.72,371.27 L659.30,371.31 L659.88,371.35 L660.46,371.39 L661.04,371.43 L661.62,371.47 L662.20,371.51 L662.78,371.55 L663.36,371.59 L663.94,371.62 L664.52,371.66 L665.10,371.70 L665.68,371.73 L666.26,371.77 L666.84,371.80 L667.42,371.84 L668.00,371.87 L668.58,371.91 L669.16,371.94 L669.74,371.97 L670.32,372.00 L670.90,372.04 L671.48,372.07 L672.06,372.10 L672.64,372.13 L673.22,372.16 L673.80,372.19 L674.38,372.22 L674.96,372.25 L675.54,372.28 L676.12,372.31 L676.70,372.34 L677.28,372.37 L677.86,372.40 L678.44,372.42 L679.02,372.45 L679.60,372.48 L680.18,372.51 L680.76,372.53 L681.34,372.56 L681.92,372.58" stroke="#ef4b4b" stroke-width="1.0" fill="none" stroke-linejoin="round" opacity="1"/>
<path d="M566.50,347.15 L567.08,339.11 L567.66,331.07 L568.24,323.03 L568.82,314.99 L569.40,306.95 L569.98,306.85 L570.56,307.04 L571.14,306.74 L571.72,306.19 L572.30,304.47 L572.88,305.47 L573.46,304.76 L574.04,303.94 L574.62,304.67 L575.20,303.93 L575.78,305.47 L576.36,305.99 L576.94,305.81 L577.52,307.21 L578.10,305.71 L578.68,307.46 L579.26,307.75 L579.84,307.30 L580.42,309.05 L581.00,309.29 L581.58,311.19 L582.16,312.96 L582.74,314.63 L583.32,316.19 L583.90,317.67 L584.48,319.18 L585.06,320.60 L585.64,321.95 L586.22,323.22 L586.80,324.43 L587.38,325.58 L587.96,326.68 L588.54,327.72 L589.12,329.06 L589.70,330.33 L590.28,331.54 L590.86,332.68 L591.44,333.78 L592.02,334.82 L592.60,335.81 L593.18,336.76 L593.76,337.67 L594.34,338.54 L594.92,339.38 L595.50,340.21 L596.08,341.05 L596.66,341.85 L597.24,342.63 L597.82,343.37 L598.40,344.08 L598.98,344.76 L599.56,345.42 L600.14,346.05 L600.72,346.66 L601.30,347.25 L601.88,347.82 L602.46,348.36 L603.04,348.88 L603.62,349.39 L604.20,349.88 L604.78,350.35 L605.36,350.81 L605.94,351.25 L606.52,351.68 L607.10,352.10 L607.68,352.50 L608.26,352.89 L608.84,353.27 L609.42,353.64 L610.00,354.00 L610.58,354.35 L611.16,354.67 L611.74,354.96 L612.32,355.25 L612.90,355.53 L613.48,355.80 L614.06,356.07 L614.64,356.33 L615.22,356.58 L615.80,356.83 L616.38,357.07 L616.96,357.31 L617.54,357.54 L618.12,357.76 L618.70,357.98 L619.28,358.20 L619.86,358.41 L620.44,358.62 L621.02,358.82 L621.60,359.02 L622.18,359.21 L622.76,359.32 L623.34,359.42 L623.92,359.52 L624.50,359.62 L625.08,359.72 L625.66,359.82 L626.24,359.92 L626.82,360.01 L627.40,360.10 L627.98,360.20 L628.56,360.29 L629.14,360.38 L629.72,360.46 L630.30,360.55 L630.88,360.38 L631.46,360.21 L632.04,360.03 L632.62,359.86 L633.20,359.69 L633.78,359.52 L634.36,359.35 L634.94,359.17 L635.52,359.00 L636.10,358.83 L636.68,358.65 L637.26,358.48 L637.84,358.31 L638.42,358.13 L639.00,357.96 L639.58,357.96 L640.16,358.12 L640.74,358.29 L641.32,358.45 L641.90,358.61 L642.48,358.77 L643.06,358.93 L643.64,359.08 L644.22,359.23 L644.80,359.38 L645.38,359.52 L645.96,359.67 L646.54,359.81 L647.12,359.95 L647.70,360.09 L648.28,360.22 L648.86,360.35 L649.44,360.49 L650.02,360.62 L650.60,360.76 L651.18,360.89 L651.76,361.03 L652.34,361.16 L652.92,361.29 L653.50,361.42 L654.08,361.54 L654.66,361.66 L655.24,361.79 L655.82,361.91 L656.40,362.03 L656.98,362.14 L657.56,362.26 L658.14,362.37 L658.72,362.49 L659.30,362.60 L659.88,362.71 L660.46,362.81 L661.04,362.92 L661.62,363.02 L662.20,363.13 L662.78,363.23 L663.36,363.35 L663.94,363.47 L664.52,363.59 L665.10,363.71 L665.68,363.83 L666.26,363.94 L666.84,364.05 L667.42,364.16 L668.00,364.27 L668.58,364.38 L669.16,364.49 L669.74,364.59 L670.32,364.70 L670.90,364.80 L671.48,364.90 L672.06,365.00 L672.64,365.10 L673.22,365.19 L673.80,365.29 L674.38,365.38 L674.96,365.48 L675.54,365.57 L676.12,365.66 L676.70,365.75 L677.28,365.83 L677.86,365.92 L678.44,366.01 L679.02,366.09 L679.60,366.18 L680.18,366.26 L680.76,366.34 L681.34,366.42 L681.92,366.50" stroke="#1a1a1a" stroke-width="0.95" fill="none" stroke-linejoin="round" opacity="1"/>
</g>
<rect x="566.5" y="274.7" width="115.5" height="106.7" fill="none" stroke="#555" stroke-width="1.2"/>
<path d="M581.0,381.4v-1.6M581.0,274.7v1.6M595.5,381.4v-1.6M595.5,274.7v1.6M610.0,381.4v-1.6M610.0,274.7v1.6M624.5,381.4v-1.6M624.5,274.7v1.6M639.0,381.4v-1.6M639.0,274.7v1.6M653.5,381.4v-1.6M653.5,274.7v1.6M668.0,381.4v-1.6M668.0,274.7v1.6M566.5,293.5h1.6M682.0,293.5h-1.6M566.5,310.3h1.6M682.0,310.3h-1.6M566.5,327.0h1.6M682.0,327.0h-1.6M566.5,344.0h1.6M682.0,344.0h-1.6M566.5,360.5h1.6M682.0,360.5h-1.6" stroke="#444" stroke-width="0.9" fill="none"/>
<text x="563.3" y="285.0" font-size="12.8" text-anchor="end" fill="#1e1e1e" stroke="#1e1e1e" >1.5</text>
<text x="563.3" y="317.6" font-size="12.8" text-anchor="end" fill="#1e1e1e" stroke="#1e1e1e" >1.0</text>
<text x="563.3" y="351.5" font-size="12.8" text-anchor="end" fill="#1e1e1e" stroke="#1e1e1e" >0.5</text>
<text x="563.3" y="381.0" font-size="12.8" text-anchor="end" fill="#1e1e1e" stroke="#1e1e1e" >0.0</text>
<text x="572.7" y="395.0" font-size="12.8" text-anchor="middle" fill="#1e1e1e" stroke="#1e1e1e" >0</text>
<text x="600.1" y="395.0" font-size="12.8" text-anchor="middle" fill="#1e1e1e" stroke="#1e1e1e" >1</text>
<text x="628.9" y="395.0" font-size="12.8" text-anchor="middle" fill="#1e1e1e" stroke="#1e1e1e" >2</text>
<text x="657.7" y="392.4" font-size="12.8" text-anchor="middle" fill="#1e1e1e" stroke="#1e1e1e" >3</text>
<text x="677.7" y="392.4" font-size="12.8" text-anchor="middle" fill="#1e1e1e" stroke="#1e1e1e" >4</text>
<text transform="translate(542.4,334.7) rotate(-90)" font-size="14.2" text-anchor="middle" fill="#33282a" stroke="#33282a">PS-Acc (g)</text>
<path d="M585.0,282.5H593.8" stroke="#ef4b4b" stroke-width="1.0"/>
<text x="594.5" y="286.1" font-size="11" text-anchor="start" fill="#1e1e1e" stroke="#1e1e1e" style="stroke-width:0.15px">RS</text>
<path d="M610.5,282.5H618.6" stroke="#c3c8ef" stroke-width="1.0"/>
<text x="619.3" y="286.1" font-size="11" text-anchor="start" fill="#1e1e1e" stroke="#1e1e1e" style="stroke-width:0.15px">S21</text>
<path d="M634.6,282.5H641.9" stroke="#7c74c4" stroke-width="1.0"/>
<text x="641.9" y="286.1" font-size="11" text-anchor="start" fill="#1e1e1e" stroke="#1e1e1e" style="stroke-width:0.15px">S22</text>
<path d="M658.0,282.5H664.6" stroke="#efefb4" stroke-width="1.0"/>
<text x="665.0" y="286.1" font-size="11" text-anchor="start" fill="#1e1e1e" stroke="#1e1e1e" style="stroke-width:0.15px">S23</text>
<path d="M585.0,294.2H593.0" stroke="#5b78c6" stroke-width="1.0"/>
<text x="593.8" y="297.8" font-size="11" text-anchor="start" fill="#1e1e1e" stroke="#1e1e1e" style="stroke-width:0.15px">S24</text>
<path d="M610.5,294.2H618.0" stroke="#ef8fbf" stroke-width="1.0"/>
<text x="619.3" y="297.8" font-size="11" text-anchor="start" fill="#1e1e1e" stroke="#1e1e1e" style="stroke-width:0.15px">S25</text>
<path d="M634.6,294.2H641.9" stroke="#e4468a" stroke-width="1.0"/>
<text x="641.9" y="297.8" font-size="11" text-anchor="start" fill="#1e1e1e" stroke="#1e1e1e" style="stroke-width:0.15px">S26</text>
<path d="M658.0,294.2H664.6" stroke="#e6b6e6" stroke-width="1.0"/>
<text x="665.0" y="297.8" font-size="11" text-anchor="start" fill="#1e1e1e" stroke="#1e1e1e" style="stroke-width:0.15px">S27</text>
<path d="M633.2,302.9H641.2" stroke="#ece33c" stroke-width="1.0"/>
<text x="641.9" y="306.5" font-size="11" text-anchor="start" fill="#1e1e1e" stroke="#1e1e1e" style="stroke-width:0.15px">S28</text>
<path d="M658.0,302.9H664.6" stroke="#a6d68e" stroke-width="1.0"/>
<text x="665.0" y="306.5" font-size="11" text-anchor="start" fill="#1e1e1e" stroke="#1e1e1e" style="stroke-width:0.15px">S29</text>
<path d="M656.5,311.2H664.6" stroke="#f6b68e" stroke-width="1.0"/>
<text x="665.0" y="314.8" font-size="11" text-anchor="start" fill="#1e1e1e" stroke="#1e1e1e" style="stroke-width:0.15px">S30</text>
<path d="M645.6,320.0H652.9" stroke="#1a1a1a" stroke-width="1.0"/>
<text x="654.3" y="324.0" font-size="12.100000000000001" text-anchor="start" fill="#1e1e1e" stroke="#1e1e1e" style="stroke-width:0.3px">mean</text>
<text x="602.3" y="413.4" font-size="13.6" text-anchor="start" fill="#33282a" stroke="#33282a" >Period (s)</text>
</svg></body></html>
